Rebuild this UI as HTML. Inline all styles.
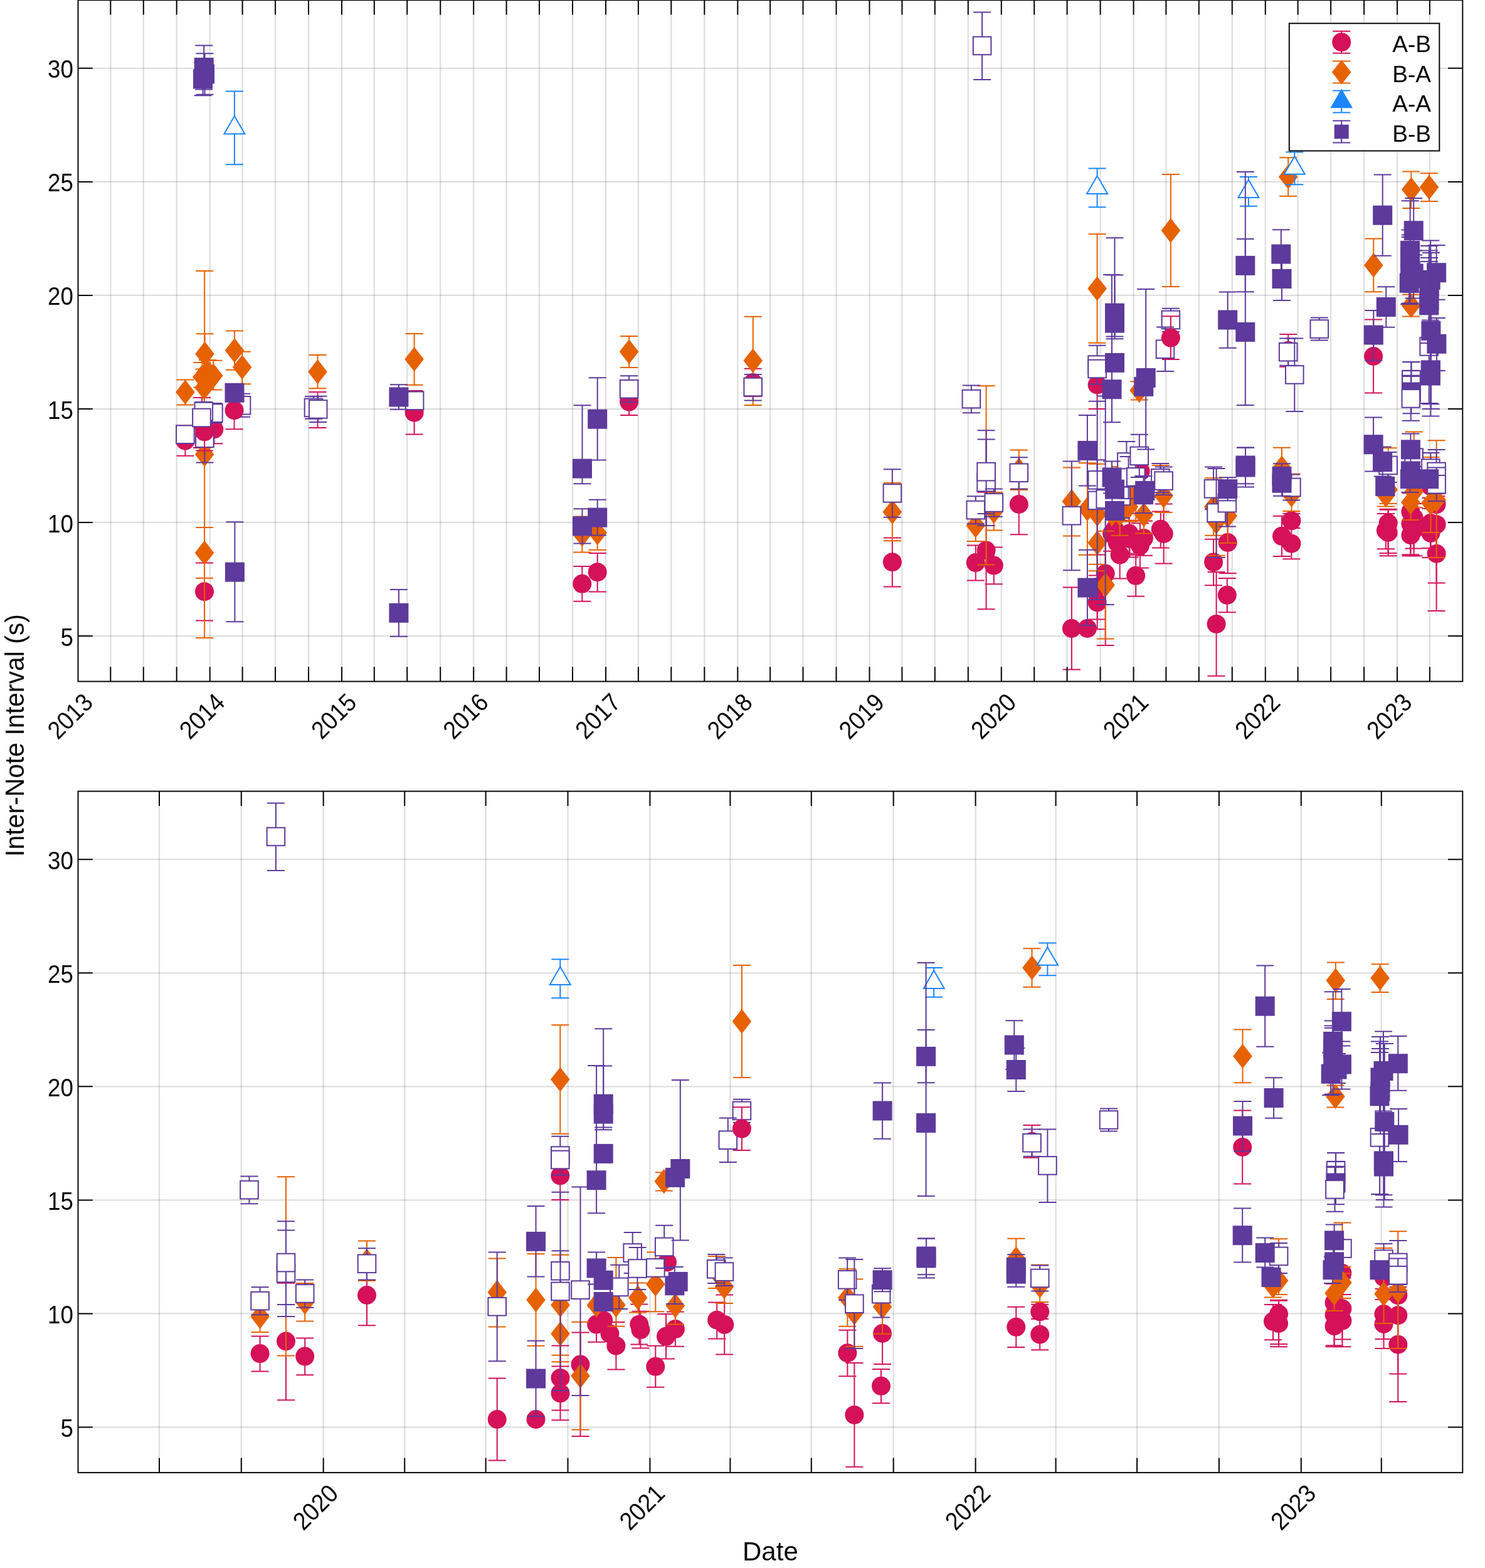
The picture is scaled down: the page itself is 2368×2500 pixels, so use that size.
<!DOCTYPE html><html><head><meta charset="utf-8"><style>html,body{margin:0;padding:0;background:#fff}svg{display:block}</style></head><body><svg xmlns="http://www.w3.org/2000/svg" width="2368" height="2500" viewBox="0 0 2368 2500">
<rect width="2368" height="2500" fill="#fff"/>
<defs><clipPath id="ct"><rect x="124.5" y="0.2" width="2207.8" height="1086.3"/></clipPath><clipPath id="cb"><rect x="124.5" y="1261.6" width="2207.8" height="1086.3000000000002"/></clipPath></defs>
<g stroke="#262626" stroke-opacity="0.15" stroke-width="2.3"><line x1="176.3" y1="0.2" x2="176.3" y2="1086.5"/><line x1="228.8" y1="0.2" x2="228.8" y2="1086.5"/><line x1="281.7" y1="0.2" x2="281.7" y2="1086.5"/><line x1="334.7" y1="0.2" x2="334.7" y2="1086.5"/><line x1="386.6" y1="0.2" x2="386.6" y2="1086.5"/><line x1="439.0" y1="0.2" x2="439.0" y2="1086.5"/><line x1="492.0" y1="0.2" x2="492.0" y2="1086.5"/><line x1="545.0" y1="0.2" x2="545.0" y2="1086.5"/><line x1="596.8" y1="0.2" x2="596.8" y2="1086.5"/><line x1="649.2" y1="0.2" x2="649.2" y2="1086.5"/><line x1="702.2" y1="0.2" x2="702.2" y2="1086.5"/><line x1="755.2" y1="0.2" x2="755.2" y2="1086.5"/><line x1="807.6" y1="0.2" x2="807.6" y2="1086.5"/><line x1="860.0" y1="0.2" x2="860.0" y2="1086.5"/><line x1="913.0" y1="0.2" x2="913.0" y2="1086.5"/><line x1="966.0" y1="0.2" x2="966.0" y2="1086.5"/><line x1="1017.9" y1="0.2" x2="1017.9" y2="1086.5"/><line x1="1070.3" y1="0.2" x2="1070.3" y2="1086.5"/><line x1="1123.3" y1="0.2" x2="1123.3" y2="1086.5"/><line x1="1176.3" y1="0.2" x2="1176.3" y2="1086.5"/><line x1="1228.1" y1="0.2" x2="1228.1" y2="1086.5"/><line x1="1280.5" y1="0.2" x2="1280.5" y2="1086.5"/><line x1="1333.5" y1="0.2" x2="1333.5" y2="1086.5"/><line x1="1386.5" y1="0.2" x2="1386.5" y2="1086.5"/><line x1="1438.4" y1="0.2" x2="1438.4" y2="1086.5"/><line x1="1490.8" y1="0.2" x2="1490.8" y2="1086.5"/><line x1="1543.8" y1="0.2" x2="1543.8" y2="1086.5"/><line x1="1596.8" y1="0.2" x2="1596.8" y2="1086.5"/><line x1="1649.2" y1="0.2" x2="1649.2" y2="1086.5"/><line x1="1701.6" y1="0.2" x2="1701.6" y2="1086.5"/><line x1="1754.6" y1="0.2" x2="1754.6" y2="1086.5"/><line x1="1807.6" y1="0.2" x2="1807.6" y2="1086.5"/><line x1="1859.4" y1="0.2" x2="1859.4" y2="1086.5"/><line x1="1911.8" y1="0.2" x2="1911.8" y2="1086.5"/><line x1="1964.8" y1="0.2" x2="1964.8" y2="1086.5"/><line x1="2017.8" y1="0.2" x2="2017.8" y2="1086.5"/><line x1="2069.6" y1="0.2" x2="2069.6" y2="1086.5"/><line x1="2122.1" y1="0.2" x2="2122.1" y2="1086.5"/><line x1="2175.1" y1="0.2" x2="2175.1" y2="1086.5"/><line x1="2228.0" y1="0.2" x2="2228.0" y2="1086.5"/><line x1="2279.9" y1="0.2" x2="2279.9" y2="1086.5"/><line x1="124.5" y1="1014.1" x2="2332.3" y2="1014.1"/><line x1="124.5" y1="833.0" x2="2332.3" y2="833.0"/><line x1="124.5" y1="652.0" x2="2332.3" y2="652.0"/><line x1="124.5" y1="470.9" x2="2332.3" y2="470.9"/><line x1="124.5" y1="289.9" x2="2332.3" y2="289.9"/><line x1="124.5" y1="108.8" x2="2332.3" y2="108.8"/></g>
<g clip-path="url(#ct)">
<path d="M1866.9 491.7V529.0M1852.9 491.7H1880.9M1852.9 529.0H1880.9" stroke="#5D3A9B" stroke-width="2" fill="none"/>
<rect x="1852.6" y="495.6" width="28.6" height="28.6" fill="#fff" stroke="#5D3A9B" stroke-width="2"/>
<path d="M1858.0 521.6V592.1M1844.0 521.6H1872.0M1844.0 592.1H1872.0" stroke="#5D3A9B" stroke-width="2" fill="none"/>
<rect x="1843.7" y="542.4" width="28.6" height="28.6" fill="#fff" stroke="#5D3A9B" stroke-width="2"/>
<path d="M1555.8 869.4V925.5M1541.8 869.4H1569.8M1541.8 925.5H1569.8" stroke="#D41159" stroke-width="2" fill="none"/>
<circle cx="1555.8" cy="897.1" r="15" fill="#D41159"/>
<path d="M1572.6 784.8V971.3M1558.6 784.8H1586.6M1558.6 971.3H1586.6" stroke="#D41159" stroke-width="2" fill="none"/>
<circle cx="1572.6" cy="877.5" r="15" fill="#D41159"/>
<path d="M1584.8 872.4V931.2M1570.8 872.4H1598.8M1570.8 931.2H1598.8" stroke="#D41159" stroke-width="2" fill="none"/>
<circle cx="1584.8" cy="901.6" r="15" fill="#D41159"/>
<path d="M1624.8 756.0V852.3M1610.8 756.0H1638.8M1610.8 852.3H1638.8" stroke="#D41159" stroke-width="2" fill="none"/>
<circle cx="1624.8" cy="804.0" r="15" fill="#D41159"/>
<path d="M1749.6 575.0V651.9M1735.6 575.0H1763.6M1735.6 651.9H1763.6" stroke="#D41159" stroke-width="2" fill="none"/>
<circle cx="1749.6" cy="613.5" r="15" fill="#D41159"/>
<path d="M1708.9 936.5V1067.5M1694.9 936.5H1722.9M1694.9 1067.5H1722.9" stroke="#D41159" stroke-width="2" fill="none"/>
<circle cx="1708.9" cy="1002.0" r="15" fill="#D41159"/>

<circle cx="1733.9" cy="1002.0" r="15" fill="#D41159"/>
<path d="M1749.7 884.4V987.4M1735.7 884.4H1763.7M1735.7 987.4H1763.7" stroke="#D41159" stroke-width="2" fill="none"/>
<circle cx="1749.7" cy="935.9" r="15" fill="#D41159"/>
<path d="M1749.7 917.5V1003.3M1735.7 917.5H1763.7M1735.7 1003.3H1763.7" stroke="#D41159" stroke-width="2" fill="none"/>
<circle cx="1749.7" cy="960.4" r="15" fill="#D41159"/>
<path d="M1762.7 863.4V1029.0M1748.7 863.4H1776.7M1748.7 1029.0H1776.7" stroke="#D41159" stroke-width="2" fill="none"/>
<circle cx="1762.7" cy="914.6" r="15" fill="#D41159"/>
<path d="M1773.0 822.5V878.7M1759.0 822.5H1787.0M1759.0 878.7H1787.0" stroke="#D41159" stroke-width="2" fill="none"/>
<circle cx="1773.0" cy="850.6" r="15" fill="#D41159"/>

<circle cx="1777.5" cy="844.2" r="15" fill="#D41159"/>

<circle cx="1781.7" cy="865.5" r="15" fill="#D41159"/>
<path d="M1785.7 846.9V922.5M1771.7 846.9H1799.7M1771.7 922.5H1799.7" stroke="#D41159" stroke-width="2" fill="none"/>
<circle cx="1785.7" cy="884.7" r="15" fill="#D41159"/>
<path d="M1800.7 818.6V882.6M1786.7 818.6H1814.7M1786.7 882.6H1814.7" stroke="#D41159" stroke-width="2" fill="none"/>
<circle cx="1800.7" cy="850.6" r="15" fill="#D41159"/>
<path d="M1801.5 829.7V888.5M1787.5 829.7H1815.5M1787.5 888.5H1815.5" stroke="#D41159" stroke-width="2" fill="none"/>
<circle cx="1801.5" cy="859.1" r="15" fill="#D41159"/>
<path d="M1811.2 884.7V950.8M1797.2 884.7H1825.2M1797.2 950.8H1825.2" stroke="#D41159" stroke-width="2" fill="none"/>
<circle cx="1811.2" cy="917.8" r="15" fill="#D41159"/>

<circle cx="1818.8" cy="751.5" r="15" fill="#D41159"/>
<path d="M1817.9 834.2V905.4M1803.9 834.2H1831.9M1803.9 905.4H1831.9" stroke="#D41159" stroke-width="2" fill="none"/>
<circle cx="1817.9" cy="869.8" r="15" fill="#D41159"/>
<path d="M1824.0 830.4V885.8M1810.0 830.4H1838.0M1810.0 885.8H1838.0" stroke="#D41159" stroke-width="2" fill="none"/>
<circle cx="1824.0" cy="858.1" r="15" fill="#D41159"/>
<path d="M1866.9 504.3V572.9M1852.9 504.3H1880.9M1852.9 572.9H1880.9" stroke="#D41159" stroke-width="2" fill="none"/>
<circle cx="1866.9" cy="538.6" r="15" fill="#D41159"/>
<path d="M1850.8 815.4V873.6M1836.8 815.4H1864.8M1836.8 873.6H1864.8" stroke="#D41159" stroke-width="2" fill="none"/>
<circle cx="1850.8" cy="843.7" r="15" fill="#D41159"/>
<path d="M1855.7 803.4V898.6M1841.7 803.4H1869.7M1841.7 898.6H1869.7" stroke="#D41159" stroke-width="2" fill="none"/>
<circle cx="1855.7" cy="850.9" r="15" fill="#D41159"/>
<path d="M1935.1 859.7V933.3M1921.1 859.7H1949.1M1921.1 933.3H1949.1" stroke="#D41159" stroke-width="2" fill="none"/>
<circle cx="1935.1" cy="896.2" r="15" fill="#D41159"/>
<path d="M1939.6 912.0V1077.8M1925.6 912.0H1953.6M1925.6 1077.8H1953.6" stroke="#D41159" stroke-width="2" fill="none"/>
<circle cx="1939.6" cy="994.9" r="15" fill="#D41159"/>
<path d="M2054.2 533.0V584.8M2040.2 533.0H2068.2M2040.2 584.8H2068.2" stroke="#D41159" stroke-width="2" fill="none"/>
<circle cx="2054.2" cy="559.0" r="15" fill="#D41159"/>
<path d="M1957.7 815.9V914.1M1943.7 815.9H1971.7M1943.7 914.1H1971.7" stroke="#D41159" stroke-width="2" fill="none"/>
<circle cx="1957.7" cy="865.0" r="15" fill="#D41159"/>
<path d="M1956.8 922.0V976.3M1942.8 922.0H1970.8M1942.8 976.3H1970.8" stroke="#D41159" stroke-width="2" fill="none"/>
<circle cx="1956.8" cy="948.8" r="15" fill="#D41159"/>
<path d="M2044.0 822.8V887.0M2030.0 822.8H2058.0M2030.0 887.0H2058.0" stroke="#D41159" stroke-width="2" fill="none"/>
<circle cx="2044.0" cy="854.8" r="15" fill="#D41159"/>
<path d="M2059.4 818.8V841.8M2045.4 818.8H2073.4M2045.4 841.8H2073.4" stroke="#D41159" stroke-width="2" fill="none"/>
<circle cx="2059.4" cy="830.3" r="15" fill="#D41159"/>
<path d="M2059.4 842.1V891.3M2045.4 842.1H2073.4M2045.4 891.3H2073.4" stroke="#D41159" stroke-width="2" fill="none"/>
<circle cx="2059.4" cy="866.7" r="15" fill="#D41159"/>
<path d="M2190.1 509.6V626.4M2176.1 509.6H2204.1M2176.1 626.4H2204.1" stroke="#D41159" stroke-width="2" fill="none"/>
<circle cx="2190.1" cy="568.0" r="15" fill="#D41159"/>
<path d="M2213.6 812.7V882.0M2199.6 812.7H2227.6M2199.6 882.0H2227.6" stroke="#D41159" stroke-width="2" fill="none"/>
<circle cx="2213.6" cy="834.0" r="15" fill="#D41159"/>
<path d="M2209.9 819.0V875.2M2195.9 819.0H2223.9M2195.9 875.2H2223.9" stroke="#D41159" stroke-width="2" fill="none"/>
<circle cx="2209.9" cy="845.8" r="15" fill="#D41159"/>
<path d="M2213.6 811.7V886.3M2199.6 811.7H2227.6M2199.6 886.3H2227.6" stroke="#D41159" stroke-width="2" fill="none"/>
<circle cx="2213.6" cy="849.0" r="15" fill="#D41159"/>

<circle cx="2254.6" cy="769.0" r="15" fill="#D41159"/>
<path d="M2249.4 772.2V859.6M2235.4 772.2H2263.4M2235.4 859.6H2263.4" stroke="#D41159" stroke-width="2" fill="none"/>
<circle cx="2249.4" cy="815.9" r="15" fill="#D41159"/>
<path d="M2254.6 776.4V874.6M2240.6 776.4H2268.6M2240.6 874.6H2268.6" stroke="#D41159" stroke-width="2" fill="none"/>
<circle cx="2254.6" cy="825.5" r="15" fill="#D41159"/>
<path d="M2249.4 786.0V884.2M2235.4 786.0H2263.4M2235.4 884.2H2263.4" stroke="#D41159" stroke-width="2" fill="none"/>
<circle cx="2249.4" cy="835.1" r="15" fill="#D41159"/>
<path d="M2254.6 803.1V886.3M2240.6 803.1H2268.6M2240.6 886.3H2268.6" stroke="#D41159" stroke-width="2" fill="none"/>
<circle cx="2254.6" cy="844.7" r="15" fill="#D41159"/>
<path d="M2249.4 820.1V886.3M2235.4 820.1H2263.4M2235.4 886.3H2263.4" stroke="#D41159" stroke-width="2" fill="none"/>
<circle cx="2249.4" cy="853.2" r="15" fill="#D41159"/>

<circle cx="2281.4" cy="775.4" r="15" fill="#D41159"/>

<circle cx="2290.6" cy="804.2" r="15" fill="#D41159"/>
<path d="M2290.6 742.8V929.6M2276.6 742.8H2304.6M2276.6 929.6H2304.6" stroke="#D41159" stroke-width="2" fill="none"/>
<circle cx="2290.6" cy="836.2" r="15" fill="#D41159"/>
<path d="M2281.4 794.0V874.0M2267.4 794.0H2295.4M2267.4 874.0H2295.4" stroke="#D41159" stroke-width="2" fill="none"/>
<circle cx="2281.4" cy="834.0" r="15" fill="#D41159"/>
<path d="M2281.4 811.0V889.0M2267.4 811.0H2295.4M2267.4 889.0H2295.4" stroke="#D41159" stroke-width="2" fill="none"/>
<circle cx="2281.4" cy="850.0" r="15" fill="#D41159"/>
<path d="M2290.6 791.0V974.0M2276.6 791.0H2304.6M2276.6 974.0H2304.6" stroke="#D41159" stroke-width="2" fill="none"/>
<circle cx="2290.6" cy="882.7" r="15" fill="#D41159"/>
<path d="M295.4 678.6V726.8M281.4 678.6H309.4M281.4 726.8H309.4" stroke="#D41159" stroke-width="2" fill="none"/>
<circle cx="295.4" cy="702.7" r="15" fill="#D41159"/>
<path d="M322.0 633.9V714.1M308.0 633.9H336.0M308.0 714.1H336.0" stroke="#D41159" stroke-width="2" fill="none"/>
<circle cx="322.0" cy="674.0" r="15" fill="#D41159"/>
<path d="M341.3 661.7V707.3M327.3 661.7H355.3M327.3 707.3H355.3" stroke="#D41159" stroke-width="2" fill="none"/>
<circle cx="341.3" cy="684.5" r="15" fill="#D41159"/>
<path d="M326.0 897.6V989.6M312.0 897.6H340.0M312.0 989.6H340.0" stroke="#D41159" stroke-width="2" fill="none"/>
<circle cx="326.0" cy="943.2" r="15" fill="#D41159"/>
<path d="M506.5 624.9V681.9M492.5 624.9H520.5M492.5 681.9H520.5" stroke="#D41159" stroke-width="2" fill="none"/>
<circle cx="506.5" cy="653.4" r="15" fill="#D41159"/>
<path d="M660.6 622.9V692.5M646.6 622.9H674.6M646.6 692.5H674.6" stroke="#D41159" stroke-width="2" fill="none"/>
<circle cx="660.6" cy="657.7" r="15" fill="#D41159"/>
<path d="M928.3 902.9V958.7M914.3 902.9H942.3M914.3 958.7H942.3" stroke="#D41159" stroke-width="2" fill="none"/>
<circle cx="928.3" cy="930.8" r="15" fill="#D41159"/>
<path d="M952.7 882.0V943.6M938.7 882.0H966.7M938.7 943.6H966.7" stroke="#D41159" stroke-width="2" fill="none"/>
<circle cx="952.7" cy="912.2" r="15" fill="#D41159"/>
<path d="M1003.1 619.0V662.1M989.1 619.0H1017.1M989.1 662.1H1017.1" stroke="#D41159" stroke-width="2" fill="none"/>
<circle cx="1003.1" cy="640.6" r="15" fill="#D41159"/>
<path d="M1200.7 587.7V632.0M1186.7 587.7H1214.7M1186.7 632.0H1214.7" stroke="#D41159" stroke-width="2" fill="none"/>
<circle cx="1200.7" cy="610.0" r="15" fill="#D41159"/>
<path d="M1422.9 857.4V935.4M1408.9 857.4H1436.9M1408.9 935.4H1436.9" stroke="#D41159" stroke-width="2" fill="none"/>
<circle cx="1422.9" cy="896.2" r="15" fill="#D41159"/>
<path d="M1555.8 813.0V863.0M1541.8 813.0H1569.8M1541.8 863.0H1569.8" stroke="#E66100" stroke-width="2" fill="none"/>
<path d="M1555.8 818.3L1571.1 838.0L1555.8 857.7L1540.5 838.0Z" fill="#E66100"/>
<path d="M1572.6 615.2V900.5M1558.6 615.2H1586.6M1558.6 900.5H1586.6" stroke="#E66100" stroke-width="2" fill="none"/>
<path d="M1572.6 738.2L1587.9 757.9L1572.6 777.6L1557.3 757.9Z" fill="#E66100"/>
<path d="M1584.8 785.0V845.5M1570.8 785.0H1598.8M1570.8 845.5H1598.8" stroke="#E66100" stroke-width="2" fill="none"/>
<path d="M1584.8 795.5L1600.1 815.2L1584.8 834.9L1569.5 815.2Z" fill="#E66100"/>
<path d="M1624.8 717.6V781.1M1610.8 717.6H1638.8M1610.8 781.1H1638.8" stroke="#E66100" stroke-width="2" fill="none"/>
<path d="M1624.8 729.7L1640.1 749.4L1624.8 769.1L1609.5 749.4Z" fill="#E66100"/>
<path d="M1749.6 373.3V546.7M1735.6 373.3H1763.6M1735.6 546.7H1763.6" stroke="#E66100" stroke-width="2" fill="none"/>
<path d="M1749.6 440.4L1764.9 460.1L1749.6 479.8L1734.3 460.1Z" fill="#E66100"/>
<path d="M1708.9 745.5V854.4M1694.9 745.5H1722.9M1694.9 854.4H1722.9" stroke="#E66100" stroke-width="2" fill="none"/>
<path d="M1708.9 779.7L1724.2 799.4L1708.9 819.1L1693.6 799.4Z" fill="#E66100"/>
<path d="M1733.9 738.2V884.7M1719.9 738.2H1747.9M1719.9 884.7H1747.9" stroke="#E66100" stroke-width="2" fill="none"/>
<path d="M1733.9 791.9L1749.2 811.6L1733.9 831.3L1718.6 811.6Z" fill="#E66100"/>
<path d="M1749.7 739.7V899.7M1735.7 739.7H1763.7M1735.7 899.7H1763.7" stroke="#E66100" stroke-width="2" fill="none"/>
<path d="M1749.7 800.0L1765.0 819.7L1749.7 839.4L1734.4 819.7Z" fill="#E66100"/>
<path d="M1749.7 820.7V910.3M1735.7 820.7H1763.7M1735.7 910.3H1763.7" stroke="#E66100" stroke-width="2" fill="none"/>
<path d="M1749.7 845.8L1765.0 865.5L1749.7 885.2L1734.4 865.5Z" fill="#E66100"/>
<path d="M1762.7 846.8V1018.6M1748.7 846.8H1776.7M1748.7 1018.6H1776.7" stroke="#E66100" stroke-width="2" fill="none"/>
<path d="M1762.7 913.0L1778.0 932.7L1762.7 952.4L1747.4 932.7Z" fill="#E66100"/>

<path d="M1773.0 800.0L1788.3 819.7L1773.0 839.4L1757.7 819.7Z" fill="#E66100"/>
<path d="M1785.7 744.0V853.8M1771.7 744.0H1799.7M1771.7 853.8H1799.7" stroke="#E66100" stroke-width="2" fill="none"/>
<path d="M1785.7 800.0L1801.0 819.7L1785.7 839.4L1770.4 819.7Z" fill="#E66100"/>
<path d="M1799.8 784.6V831.4M1785.8 784.6H1813.8M1785.8 831.4H1813.8" stroke="#E66100" stroke-width="2" fill="none"/>
<path d="M1799.8 788.3L1815.1 808.0L1799.8 827.7L1784.5 808.0Z" fill="#E66100"/>
<path d="M1811.2 735.5V830.3M1797.2 735.5H1825.2M1797.2 830.3H1825.2" stroke="#E66100" stroke-width="2" fill="none"/>
<path d="M1811.2 766.9L1826.5 786.6L1811.2 806.3L1795.9 786.6Z" fill="#E66100"/>
<path d="M1824.0 790.8V850.6M1810.0 790.8H1838.0M1810.0 850.6H1838.0" stroke="#E66100" stroke-width="2" fill="none"/>
<path d="M1824.0 801.0L1839.3 820.7L1824.0 840.4L1808.7 820.7Z" fill="#E66100"/>
<path d="M1816.7 608.2V637.4M1802.7 608.2H1830.7M1802.7 637.4H1830.7" stroke="#E66100" stroke-width="2" fill="none"/>
<path d="M1816.7 602.8L1832.0 622.5L1816.7 642.2L1801.4 622.5Z" fill="#E66100"/>
<path d="M1866.9 278.1V457.1M1852.9 278.1H1880.9M1852.9 457.1H1880.9" stroke="#E66100" stroke-width="2" fill="none"/>
<path d="M1866.9 347.8L1882.2 367.5L1866.9 387.2L1851.6 367.5Z" fill="#E66100"/>
<path d="M1850.8 741.9V792.9M1836.8 741.9H1864.8M1836.8 792.9H1864.8" stroke="#E66100" stroke-width="2" fill="none"/>
<path d="M1850.8 747.7L1866.1 767.4L1850.8 787.1L1835.5 767.4Z" fill="#E66100"/>
<path d="M1855.6 764.1V816.9M1841.6 764.1H1869.6M1841.6 816.9H1869.6" stroke="#E66100" stroke-width="2" fill="none"/>
<path d="M1855.6 770.8L1870.9 790.5L1855.6 810.2L1840.3 790.5Z" fill="#E66100"/>
<path d="M1935.1 762.2V853.8M1921.1 762.2H1949.1M1921.1 853.8H1949.1" stroke="#E66100" stroke-width="2" fill="none"/>
<path d="M1935.1 788.5L1950.4 808.2L1935.1 827.9L1919.8 808.2Z" fill="#E66100"/>
<path d="M1939.5 778.6V885.8M1925.5 778.6H1953.5M1925.5 885.8H1953.5" stroke="#E66100" stroke-width="2" fill="none"/>
<path d="M1939.5 812.3L1954.8 832.0L1939.5 851.7L1924.2 832.0Z" fill="#E66100"/>
<path d="M2054.2 251.2V312.8M2040.2 251.2H2068.2M2040.2 312.8H2068.2" stroke="#E66100" stroke-width="2" fill="none"/>
<path d="M2054.2 262.2L2069.5 281.9L2054.2 301.6L2038.9 281.9Z" fill="#E66100"/>
<path d="M1957.7 779.1V865.7M1943.7 779.1H1971.7M1943.7 865.7H1971.7" stroke="#E66100" stroke-width="2" fill="none"/>
<path d="M1957.7 802.7L1973.0 822.4L1957.7 842.1L1942.4 822.4Z" fill="#E66100"/>
<path d="M2044.0 713.7V778.1M2030.0 713.7H2058.0M2030.0 778.1H2058.0" stroke="#E66100" stroke-width="2" fill="none"/>
<path d="M2044.0 726.2L2059.3 745.9L2044.0 765.6L2028.7 745.9Z" fill="#E66100"/>
<path d="M2059.4 755.7V814.9M2045.4 755.7H2073.4M2045.4 814.9H2073.4" stroke="#E66100" stroke-width="2" fill="none"/>
<path d="M2059.4 769.3L2074.7 789.0L2059.4 808.7L2044.1 789.0Z" fill="#E66100"/>
<path d="M2190.3 380.5V465.3M2176.3 380.5H2204.3M2176.3 465.3H2204.3" stroke="#E66100" stroke-width="2" fill="none"/>
<path d="M2190.3 403.2L2205.6 422.9L2190.3 442.6L2175.0 422.9Z" fill="#E66100"/>
<path d="M2250.3 273.6V332.0M2236.3 273.6H2264.3M2236.3 332.0H2264.3" stroke="#E66100" stroke-width="2" fill="none"/>
<path d="M2250.3 282.6L2265.6 302.3L2250.3 322.0L2235.0 302.3Z" fill="#E66100"/>
<path d="M2279.0 276.3V320.9M2265.0 276.3H2293.0M2265.0 320.9H2293.0" stroke="#E66100" stroke-width="2" fill="none"/>
<path d="M2279.0 278.8L2294.3 298.5L2279.0 318.2L2263.7 298.5Z" fill="#E66100"/>
<path d="M2250.1 469.6V504.4M2236.1 469.6H2264.1M2236.1 504.4H2264.1" stroke="#E66100" stroke-width="2" fill="none"/>
<path d="M2250.1 467.5L2265.4 487.2L2250.1 506.9L2234.8 487.2Z" fill="#E66100"/>
<path d="M2213.6 714.2V803.0M2199.6 714.2H2227.6M2199.6 803.0H2227.6" stroke="#E66100" stroke-width="2" fill="none"/>
<path d="M2213.6 761.0L2228.9 780.7L2213.6 800.4L2198.3 780.7Z" fill="#E66100"/>
<path d="M2209.9 771.2V807.4M2195.9 771.2H2223.9M2195.9 807.4H2223.9" stroke="#E66100" stroke-width="2" fill="none"/>
<path d="M2209.9 769.6L2225.2 789.3L2209.9 809.0L2194.6 789.3Z" fill="#E66100"/>
<path d="M2254.6 688.4V769.6M2240.6 688.4H2268.6M2240.6 769.6H2268.6" stroke="#E66100" stroke-width="2" fill="none"/>
<path d="M2254.6 709.3L2269.9 729.0L2254.6 748.7L2239.3 729.0Z" fill="#E66100"/>
<path d="M2254.6 759.0V809.0M2240.6 759.0H2268.6M2240.6 809.0H2268.6" stroke="#E66100" stroke-width="2" fill="none"/>
<path d="M2254.6 764.3L2269.9 784.0L2254.6 803.7L2239.3 784.0Z" fill="#E66100"/>
<path d="M2249.4 773.0V829.0M2235.4 773.0H2263.4M2235.4 829.0H2263.4" stroke="#E66100" stroke-width="2" fill="none"/>
<path d="M2249.4 781.3L2264.7 801.0L2249.4 820.7L2234.1 801.0Z" fill="#E66100"/>
<path d="M2281.4 729.0V849.0M2267.4 729.0H2295.4M2267.4 849.0H2295.4" stroke="#E66100" stroke-width="2" fill="none"/>
<path d="M2281.4 782.4L2296.7 802.1L2281.4 821.8L2266.1 802.1Z" fill="#E66100"/>
<path d="M2290.6 702.3V889.0M2276.6 702.3H2304.6M2276.6 889.0H2304.6" stroke="#E66100" stroke-width="2" fill="none"/>
<path d="M2290.6 777.3L2305.9 797.0L2290.6 816.7L2275.3 797.0Z" fill="#E66100"/>
<path d="M295.4 605.6V645.5M281.4 605.6H309.4M281.4 645.5H309.4" stroke="#E66100" stroke-width="2" fill="none"/>
<path d="M295.4 605.6L310.7 625.3L295.4 645.0L280.1 625.3Z" fill="#E66100"/>
<path d="M326.5 532.2V596.2M312.5 532.2H340.5M312.5 596.2H340.5" stroke="#E66100" stroke-width="2" fill="none"/>
<path d="M326.5 544.5L341.8 564.2L326.5 583.9L311.2 564.2Z" fill="#E66100"/>
<path d="M331.0 574.1V611.9M317.0 574.1H345.0M317.0 611.9H345.0" stroke="#E66100" stroke-width="2" fill="none"/>
<path d="M331.0 573.3L346.3 593.0L331.0 612.7L315.7 593.0Z" fill="#E66100"/>
<path d="M340.3 574.8V621.4M326.3 574.8H354.3M326.3 621.4H354.3" stroke="#E66100" stroke-width="2" fill="none"/>
<path d="M340.3 579.3L355.6 599.0L340.3 618.7L325.0 599.0Z" fill="#E66100"/>
<path d="M322.4 578.0V617.5M308.4 578.0H336.4M308.4 617.5H336.4" stroke="#E66100" stroke-width="2" fill="none"/>
<path d="M322.4 581.3L337.7 601.0L322.4 620.7L307.1 601.0Z" fill="#E66100"/>
<path d="M325.5 588.4V647.6M311.5 588.4H339.5M311.5 647.6H339.5" stroke="#E66100" stroke-width="2" fill="none"/>
<path d="M325.5 598.3L340.8 618.0L325.5 637.7L310.2 618.0Z" fill="#E66100"/>
<path d="M326.1 432.0V1017.0M312.1 432.0H340.1M312.1 1017.0H340.1" stroke="#E66100" stroke-width="2" fill="none"/>
<path d="M326.1 704.9L341.4 724.6L326.1 744.3L310.8 724.6Z" fill="#E66100"/>
<path d="M374.0 527.6V589.8M360.0 527.6H388.0M360.0 589.8H388.0" stroke="#E66100" stroke-width="2" fill="none"/>
<path d="M374.0 539.0L389.3 558.7L374.0 578.4L358.7 558.7Z" fill="#E66100"/>
<path d="M386.1 560.7V612.2M372.1 560.7H400.1M372.1 612.2H400.1" stroke="#E66100" stroke-width="2" fill="none"/>
<path d="M386.1 565.7L401.4 585.4L386.1 605.1L370.8 585.4Z" fill="#E66100"/>
<path d="M326.0 841.0V921.8M312.0 841.0H340.0M312.0 921.8H340.0" stroke="#E66100" stroke-width="2" fill="none"/>
<path d="M326.0 861.7L341.3 881.4L326.0 901.1L310.7 881.4Z" fill="#E66100"/>
<path d="M506.5 566.0V619.3M492.5 566.0H520.5M492.5 619.3H520.5" stroke="#E66100" stroke-width="2" fill="none"/>
<path d="M506.5 573.0L521.8 592.7L506.5 612.4L491.2 592.7Z" fill="#E66100"/>
<path d="M660.6 532.1V613.8M646.6 532.1H674.6M646.6 613.8H674.6" stroke="#E66100" stroke-width="2" fill="none"/>
<path d="M660.6 553.1L675.9 572.8L660.6 592.5L645.3 572.8Z" fill="#E66100"/>
<path d="M928.3 823.6V880.4M914.3 823.6H942.3M914.3 880.4H942.3" stroke="#E66100" stroke-width="2" fill="none"/>
<path d="M928.3 832.3L943.6 852.0L928.3 871.7L913.0 852.0Z" fill="#E66100"/>
<path d="M952.7 822.5V876.7M938.7 822.5H966.7M938.7 876.7H966.7" stroke="#E66100" stroke-width="2" fill="none"/>
<path d="M952.7 829.9L968.0 849.6L952.7 869.3L937.4 849.6Z" fill="#E66100"/>
<path d="M1003.1 536.0V585.9M989.1 536.0H1017.1M989.1 585.9H1017.1" stroke="#E66100" stroke-width="2" fill="none"/>
<path d="M1003.1 541.1L1018.4 560.8L1003.1 580.5L987.8 560.8Z" fill="#E66100"/>
<path d="M1200.7 504.8V645.9M1186.7 504.8H1214.7M1186.7 645.9H1214.7" stroke="#E66100" stroke-width="2" fill="none"/>
<path d="M1200.7 555.4L1216.0 575.1L1200.7 594.8L1185.4 575.1Z" fill="#E66100"/>
<path d="M1422.9 769.7V862.2M1408.9 769.7H1436.9M1408.9 862.2H1436.9" stroke="#E66100" stroke-width="2" fill="none"/>
<path d="M1422.9 796.5L1438.2 816.2L1422.9 835.9L1407.6 816.2Z" fill="#E66100"/>
<path d="M1749.6 268.4V330.3M1735.6 268.4H1763.6M1735.6 330.3H1763.6" stroke="#1A85FF" stroke-width="2" fill="none"/>
<path d="M1749.6 280.4L1766.1 308.9L1733.1 308.9Z" fill="#fff" stroke="#1A85FF" stroke-width="2"/>
<path d="M1990.9 281.9V328.8M1976.9 281.9H2004.9M1976.9 328.8H2004.9" stroke="#1A85FF" stroke-width="2" fill="none"/>
<path d="M1990.9 286.4L2007.4 314.9L1974.4 314.9Z" fill="#fff" stroke="#1A85FF" stroke-width="2"/>
<path d="M2064.3 242.4V294.2M2050.3 242.4H2078.3M2050.3 294.2H2078.3" stroke="#1A85FF" stroke-width="2" fill="none"/>
<path d="M2064.3 249.3L2080.8 277.8L2047.8 277.8Z" fill="#fff" stroke="#1A85FF" stroke-width="2"/>
<path d="M373.9 145.5V262.2M359.9 145.5H387.9M359.9 262.2H387.9" stroke="#1A85FF" stroke-width="2" fill="none"/>
<path d="M373.9 184.9L390.4 213.4L357.4 213.4Z" fill="#fff" stroke="#1A85FF" stroke-width="2"/>
<path d="M1566.1 19.4V126.9M1552.1 19.4H1580.1M1552.1 126.9H1580.1" stroke="#5D3A9B" stroke-width="2" fill="none"/>
<rect x="1551.8" y="58.6" width="28.6" height="28.6" fill="#fff" stroke="#5D3A9B" stroke-width="2"/>
<path d="M1548.9 614.6V658.3M1534.9 614.6H1562.9M1534.9 658.3H1562.9" stroke="#5D3A9B" stroke-width="2" fill="none"/>
<rect x="1534.6" y="621.8" width="28.6" height="28.6" fill="#fff" stroke="#5D3A9B" stroke-width="2"/>
<path d="M1555.8 791.2V835.3M1541.8 791.2H1569.8M1541.8 835.3H1569.8" stroke="#5D3A9B" stroke-width="2" fill="none"/>
<rect x="1541.5" y="798.8" width="28.6" height="28.6" fill="#fff" stroke="#5D3A9B" stroke-width="2"/>
<path d="M1572.6 700.5V838.0M1558.6 700.5H1586.6M1558.6 838.0H1586.6" stroke="#5D3A9B" stroke-width="2" fill="none"/>
<rect x="1558.3" y="754.7" width="28.6" height="28.6" fill="#fff" stroke="#5D3A9B" stroke-width="2"/>
<path d="M1572.6 686.2V818.9M1558.6 686.2H1586.6M1558.6 818.9H1586.6" stroke="#5D3A9B" stroke-width="2" fill="none"/>
<rect x="1558.3" y="737.8" width="28.6" height="28.6" fill="#fff" stroke="#5D3A9B" stroke-width="2"/>
<path d="M1584.8 779.4V823.8M1570.8 779.4H1598.8M1570.8 823.8H1598.8" stroke="#5D3A9B" stroke-width="2" fill="none"/>
<rect x="1570.5" y="787.1" width="28.6" height="28.6" fill="#fff" stroke="#5D3A9B" stroke-width="2"/>
<path d="M1624.8 729.3V779.4M1610.8 729.3H1638.8M1610.8 779.4H1638.8" stroke="#5D3A9B" stroke-width="2" fill="none"/>
<rect x="1610.5" y="739.5" width="28.6" height="28.6" fill="#fff" stroke="#5D3A9B" stroke-width="2"/>
<path d="M1749.6 550.7V612.5M1735.6 550.7H1763.6M1735.6 612.5H1763.6" stroke="#5D3A9B" stroke-width="2" fill="none"/>
<rect x="1735.3" y="567.3" width="28.6" height="28.6" fill="#fff" stroke="#5D3A9B" stroke-width="2"/>

<rect x="1735.3" y="573.7" width="28.6" height="28.6" fill="#fff" stroke="#5D3A9B" stroke-width="2"/>
<path d="M1708.9 735.5V909.2M1694.9 735.5H1722.9M1694.9 909.2H1722.9" stroke="#5D3A9B" stroke-width="2" fill="none"/>
<rect x="1694.6" y="807.9" width="28.6" height="28.6" fill="#fff" stroke="#5D3A9B" stroke-width="2"/>
<path d="M1749.7 733.3V797.3M1735.7 733.3H1763.7M1735.7 797.3H1763.7" stroke="#5D3A9B" stroke-width="2" fill="none"/>
<rect x="1735.4" y="751.0" width="28.6" height="28.6" fill="#fff" stroke="#5D3A9B" stroke-width="2"/>
<path d="M1749.7 639.7V956.1M1735.7 639.7H1763.7M1735.7 956.1H1763.7" stroke="#5D3A9B" stroke-width="2" fill="none"/>
<rect x="1735.4" y="783.6" width="28.6" height="28.6" fill="#fff" stroke="#5D3A9B" stroke-width="2"/>
<path d="M1762.7 631.4V964.0M1748.7 631.4H1776.7M1748.7 964.0H1776.7" stroke="#5D3A9B" stroke-width="2" fill="none"/>
<rect x="1748.4" y="781.3" width="28.6" height="28.6" fill="#fff" stroke="#5D3A9B" stroke-width="2"/>
<path d="M1787.7 755.7V826.1M1773.7 755.7H1801.7M1773.7 826.1H1801.7" stroke="#5D3A9B" stroke-width="2" fill="none"/>
<rect x="1773.4" y="776.6" width="28.6" height="28.6" fill="#fff" stroke="#5D3A9B" stroke-width="2"/>
<path d="M1796.4 703.9V769.1M1782.4 703.9H1810.4M1782.4 769.1H1810.4" stroke="#5D3A9B" stroke-width="2" fill="none"/>
<rect x="1782.1" y="722.2" width="28.6" height="28.6" fill="#fff" stroke="#5D3A9B" stroke-width="2"/>
<path d="M1799.5 728.0V795.0M1785.5 728.0H1813.5M1785.5 795.0H1813.5" stroke="#5D3A9B" stroke-width="2" fill="none"/>
<rect x="1785.2" y="747.2" width="28.6" height="28.6" fill="#fff" stroke="#5D3A9B" stroke-width="2"/>

<rect x="1796.9" y="746.1" width="28.6" height="28.6" fill="#fff" stroke="#5D3A9B" stroke-width="2"/>
<path d="M1816.8 692.8V761.0M1802.8 692.8H1830.8M1802.8 761.0H1830.8" stroke="#5D3A9B" stroke-width="2" fill="none"/>
<rect x="1802.5" y="712.6" width="28.6" height="28.6" fill="#fff" stroke="#5D3A9B" stroke-width="2"/>
<path d="M1850.4 739.0V785.0M1836.4 739.0H1864.4M1836.4 785.0H1864.4" stroke="#5D3A9B" stroke-width="2" fill="none"/>
<rect x="1836.1" y="748.0" width="28.6" height="28.6" fill="#fff" stroke="#5D3A9B" stroke-width="2"/>
<path d="M1855.6 744.6V789.0M1841.6 744.6H1869.6M1841.6 789.0H1869.6" stroke="#5D3A9B" stroke-width="2" fill="none"/>
<rect x="1841.3" y="752.3" width="28.6" height="28.6" fill="#fff" stroke="#5D3A9B" stroke-width="2"/>
<path d="M1935.0 744.6V811.7M1921.0 744.6H1949.0M1921.0 811.7H1949.0" stroke="#5D3A9B" stroke-width="2" fill="none"/>
<rect x="1920.7" y="765.0" width="28.6" height="28.6" fill="#fff" stroke="#5D3A9B" stroke-width="2"/>
<path d="M1939.6 747.0V889.0M1925.6 747.0H1953.6M1925.6 889.0H1953.6" stroke="#5D3A9B" stroke-width="2" fill="none"/>
<rect x="1925.3" y="803.4" width="28.6" height="28.6" fill="#fff" stroke="#5D3A9B" stroke-width="2"/>
<path d="M2054.2 539.4V582.7M2040.2 539.4H2068.2M2040.2 582.7H2068.2" stroke="#5D3A9B" stroke-width="2" fill="none"/>
<rect x="2039.9" y="546.9" width="28.6" height="28.6" fill="#fff" stroke="#5D3A9B" stroke-width="2"/>
<path d="M2064.3 539.4V656.1M2050.3 539.4H2078.3M2050.3 656.1H2078.3" stroke="#5D3A9B" stroke-width="2" fill="none"/>
<rect x="2050.0" y="583.1" width="28.6" height="28.6" fill="#fff" stroke="#5D3A9B" stroke-width="2"/>
<path d="M2103.8 506.4V542.6M2089.8 506.4H2117.8M2089.8 542.6H2117.8" stroke="#5D3A9B" stroke-width="2" fill="none"/>
<rect x="2089.5" y="510.2" width="28.6" height="28.6" fill="#fff" stroke="#5D3A9B" stroke-width="2"/>
<path d="M1956.9 799.4V839.5M1942.9 799.4H1970.9M1942.9 839.5H1970.9" stroke="#5D3A9B" stroke-width="2" fill="none"/>
<rect x="1942.6" y="787.8" width="28.6" height="28.6" fill="#fff" stroke="#5D3A9B" stroke-width="2"/>
<path d="M2059.4 756.6V797.4M2045.4 756.6H2073.4M2045.4 797.4H2073.4" stroke="#5D3A9B" stroke-width="2" fill="none"/>
<rect x="2045.1" y="762.7" width="28.6" height="28.6" fill="#fff" stroke="#5D3A9B" stroke-width="2"/>
<path d="M2278.7 417.1V643.0M2264.7 417.1H2292.7M2264.7 643.0H2292.7" stroke="#5D3A9B" stroke-width="2" fill="none"/>
<rect x="2264.4" y="538.1" width="28.6" height="28.6" fill="#fff" stroke="#5D3A9B" stroke-width="2"/>
<path d="M2250.4 577.0V591.0M2236.4 577.0H2264.4M2236.4 591.0H2264.4" stroke="#5D3A9B" stroke-width="2" fill="none"/>
<rect x="2236.1" y="591.1" width="28.6" height="28.6" fill="#fff" stroke="#5D3A9B" stroke-width="2"/>
<path d="M2213.6 721.0V769.0M2199.6 721.0H2227.6M2199.6 769.0H2227.6" stroke="#5D3A9B" stroke-width="2" fill="none"/>
<rect x="2199.3" y="727.6" width="28.6" height="28.6" fill="#fff" stroke="#5D3A9B" stroke-width="2"/>
<path d="M2250.4 577.2V648.8M2236.4 577.2H2264.4M2236.4 648.8H2264.4" stroke="#5D3A9B" stroke-width="2" fill="none"/>
<rect x="2236.1" y="598.7" width="28.6" height="28.6" fill="#fff" stroke="#5D3A9B" stroke-width="2"/>

<rect x="2240.3" y="715.3" width="28.6" height="28.6" fill="#fff" stroke="#5D3A9B" stroke-width="2"/>
<path d="M2281.4 722.0V771.2M2267.4 722.0H2295.4M2267.4 771.2H2295.4" stroke="#5D3A9B" stroke-width="2" fill="none"/>
<rect x="2267.1" y="732.3" width="28.6" height="28.6" fill="#fff" stroke="#5D3A9B" stroke-width="2"/>
<path d="M2290.6 717.0V787.0M2276.6 717.0H2304.6M2276.6 787.0H2304.6" stroke="#5D3A9B" stroke-width="2" fill="none"/>
<rect x="2276.3" y="737.7" width="28.6" height="28.6" fill="#fff" stroke="#5D3A9B" stroke-width="2"/>
<path d="M2290.6 745.4V799.0M2276.6 745.4H2304.6M2276.6 799.0H2304.6" stroke="#5D3A9B" stroke-width="2" fill="none"/>
<rect x="2276.3" y="757.9" width="28.6" height="28.6" fill="#fff" stroke="#5D3A9B" stroke-width="2"/>

<rect x="281.1" y="678.4" width="28.6" height="28.6" fill="#fff" stroke="#5D3A9B" stroke-width="2"/>
<path d="M326.4 660.1V737.5M312.4 660.1H340.4M312.4 737.5H340.4" stroke="#5D3A9B" stroke-width="2" fill="none"/>
<rect x="312.1" y="684.5" width="28.6" height="28.6" fill="#fff" stroke="#5D3A9B" stroke-width="2"/>
<path d="M340.4 643.0V674.2M326.4 643.0H354.4M326.4 674.2H354.4" stroke="#5D3A9B" stroke-width="2" fill="none"/>
<rect x="326.1" y="644.3" width="28.6" height="28.6" fill="#fff" stroke="#5D3A9B" stroke-width="2"/>
<path d="M385.0 627.8V664.7M371.0 627.8H399.0M371.0 664.7H399.0" stroke="#5D3A9B" stroke-width="2" fill="none"/>
<rect x="370.7" y="632.0" width="28.6" height="28.6" fill="#fff" stroke="#5D3A9B" stroke-width="2"/>
<path d="M500.0 632.2V667.8M486.0 632.2H514.0M486.0 667.8H514.0" stroke="#5D3A9B" stroke-width="2" fill="none"/>
<rect x="485.7" y="635.7" width="28.6" height="28.6" fill="#fff" stroke="#5D3A9B" stroke-width="2"/>
<path d="M507.2 631.7V673.1M493.2 631.7H521.2M493.2 673.1H521.2" stroke="#5D3A9B" stroke-width="2" fill="none"/>
<rect x="492.9" y="638.1" width="28.6" height="28.6" fill="#fff" stroke="#5D3A9B" stroke-width="2"/>

<rect x="646.8" y="624.5" width="28.6" height="28.6" fill="#fff" stroke="#5D3A9B" stroke-width="2"/>
<path d="M1003.1 599.2V641.2M989.1 599.2H1017.1M989.1 641.2H1017.1" stroke="#5D3A9B" stroke-width="2" fill="none"/>
<rect x="988.8" y="605.9" width="28.6" height="28.6" fill="#fff" stroke="#5D3A9B" stroke-width="2"/>
<path d="M1200.7 596.9V638.6M1186.7 596.9H1214.7M1186.7 638.6H1214.7" stroke="#5D3A9B" stroke-width="2" fill="none"/>
<rect x="1186.4" y="602.7" width="28.6" height="28.6" fill="#fff" stroke="#5D3A9B" stroke-width="2"/>
<path d="M1422.9 748.3V824.7M1408.9 748.3H1436.9M1408.9 824.7H1436.9" stroke="#5D3A9B" stroke-width="2" fill="none"/>
<rect x="1408.6" y="772.1" width="28.6" height="28.6" fill="#fff" stroke="#5D3A9B" stroke-width="2"/>
<path d="M326.1 658.3V718.5M312.1 658.3H340.1M312.1 718.5H340.1" stroke="#D41159" stroke-width="2" fill="none"/>
<circle cx="326.1" cy="688.4" r="15" fill="#D41159"/>
<path d="M373.6 621.4V684.3M359.6 621.4H387.6M359.6 684.3H387.6" stroke="#D41159" stroke-width="2" fill="none"/>
<circle cx="373.6" cy="654.2" r="15" fill="#D41159"/>
<path d="M1777.5 379.3V536.4M1763.5 379.3H1791.5M1763.5 536.4H1791.5" stroke="#5D3A9B" stroke-width="2" fill="none"/>
<rect x="1762.0" y="483.6" width="31" height="31" fill="#5D3A9B"/>
<path d="M1777.5 438.4V540.3M1763.5 438.4H1791.5M1763.5 540.3H1791.5" stroke="#5D3A9B" stroke-width="2" fill="none"/>
<rect x="1762.0" y="499.6" width="31" height="31" fill="#5D3A9B"/>

<rect x="1762.0" y="562.9" width="31" height="31" fill="#5D3A9B"/>
<path d="M1773.0 438.0V673.2M1759.0 438.0H1787.0M1759.0 673.2H1787.0" stroke="#5D3A9B" stroke-width="2" fill="none"/>
<rect x="1757.5" y="605.2" width="31" height="31" fill="#5D3A9B"/>
<path d="M1733.9 662.1V774.5M1719.9 662.1H1747.9M1719.9 774.5H1747.9" stroke="#5D3A9B" stroke-width="2" fill="none"/>
<rect x="1718.4" y="702.9" width="31" height="31" fill="#5D3A9B"/>
<path d="M1733.9 876.8V997.2M1719.9 876.8H1747.9M1719.9 997.2H1747.9" stroke="#5D3A9B" stroke-width="2" fill="none"/>
<rect x="1718.4" y="921.5" width="31" height="31" fill="#5D3A9B"/>
<path d="M1773.0 735.5V786.5M1759.0 735.5H1787.0M1759.0 786.5H1787.0" stroke="#5D3A9B" stroke-width="2" fill="none"/>
<rect x="1757.5" y="745.5" width="31" height="31" fill="#5D3A9B"/>

<rect x="1762.0" y="764.7" width="31" height="31" fill="#5D3A9B"/>

<rect x="1762.0" y="798.9" width="31" height="31" fill="#5D3A9B"/>
<path d="M1827.2 461.0V716.4M1813.2 461.0H1841.2M1813.2 716.4H1841.2" stroke="#5D3A9B" stroke-width="2" fill="none"/>
<rect x="1811.7" y="587.0" width="31" height="31" fill="#5D3A9B"/>

<rect x="1808.3" y="600.9" width="31" height="31" fill="#5D3A9B"/>

<rect x="1810.2" y="766.9" width="31" height="31" fill="#5D3A9B"/>
<path d="M1823.5 759.0V818.0M1809.5 759.0H1837.5M1809.5 818.0H1837.5" stroke="#5D3A9B" stroke-width="2" fill="none"/>
<rect x="1808.0" y="773.3" width="31" height="31" fill="#5D3A9B"/>
<path d="M1957.7 465.4V554.8M1943.7 465.4H1971.7M1943.7 554.8H1971.7" stroke="#5D3A9B" stroke-width="2" fill="none"/>
<rect x="1942.2" y="494.5" width="31" height="31" fill="#5D3A9B"/>
<path d="M1985.8 381.0V465.2M1971.8 381.0H1999.8M1971.8 465.2H1999.8" stroke="#5D3A9B" stroke-width="2" fill="none"/>
<rect x="1970.3" y="407.9" width="31" height="31" fill="#5D3A9B"/>
<path d="M1985.8 274.0V646.0M1971.8 274.0H1999.8M1971.8 646.0H1999.8" stroke="#5D3A9B" stroke-width="2" fill="none"/>
<rect x="1970.3" y="513.9" width="31" height="31" fill="#5D3A9B"/>
<path d="M2042.8 366.3V443.9M2028.8 366.3H2056.8M2028.8 443.9H2056.8" stroke="#5D3A9B" stroke-width="2" fill="none"/>
<rect x="2027.3" y="389.6" width="31" height="31" fill="#5D3A9B"/>
<path d="M2044.0 409.9V479.1M2030.0 409.9H2058.0M2030.0 479.1H2058.0" stroke="#5D3A9B" stroke-width="2" fill="none"/>
<rect x="2028.5" y="429.0" width="31" height="31" fill="#5D3A9B"/>
<path d="M1957.7 761.2V798.2M1943.7 761.2H1971.7M1943.7 798.2H1971.7" stroke="#5D3A9B" stroke-width="2" fill="none"/>
<rect x="1942.2" y="764.2" width="31" height="31" fill="#5D3A9B"/>
<path d="M1986.0 713.7V771.2M1972.0 713.7H2000.0M1972.0 771.2H2000.0" stroke="#5D3A9B" stroke-width="2" fill="none"/>
<rect x="1970.5" y="726.5" width="31" height="31" fill="#5D3A9B"/>
<path d="M1986.0 713.4V776.6M1972.0 713.4H2000.0M1972.0 776.6H2000.0" stroke="#5D3A9B" stroke-width="2" fill="none"/>
<rect x="1970.5" y="729.5" width="31" height="31" fill="#5D3A9B"/>
<path d="M2044.0 739.2V779.8M2030.0 739.2H2058.0M2030.0 779.8H2058.0" stroke="#5D3A9B" stroke-width="2" fill="none"/>
<rect x="2028.5" y="744.0" width="31" height="31" fill="#5D3A9B"/>
<path d="M2044.0 749.6V790.8M2030.0 749.6H2058.0M2030.0 790.8H2058.0" stroke="#5D3A9B" stroke-width="2" fill="none"/>
<rect x="2028.5" y="754.7" width="31" height="31" fill="#5D3A9B"/>
<path d="M2204.7 278.5V407.7M2190.7 278.5H2218.7M2190.7 407.7H2218.7" stroke="#5D3A9B" stroke-width="2" fill="none"/>
<rect x="2189.2" y="327.7" width="31" height="31" fill="#5D3A9B"/>
<path d="M2210.3 457.3V521.7M2196.3 457.3H2224.3M2196.3 521.7H2224.3" stroke="#5D3A9B" stroke-width="2" fill="none"/>
<rect x="2194.8" y="474.0" width="31" height="31" fill="#5D3A9B"/>
<path d="M2254.2 316.0V406.5M2240.2 316.0H2268.2M2240.2 406.5H2268.2" stroke="#5D3A9B" stroke-width="2" fill="none"/>
<rect x="2238.7" y="352.2" width="31" height="31" fill="#5D3A9B"/>
<path d="M2248.6 320.3V366.6M2234.6 320.3H2262.6M2234.6 366.6H2262.6" stroke="#5D3A9B" stroke-width="2" fill="none"/>
<rect x="2233.1" y="383.9" width="31" height="31" fill="#5D3A9B"/>
<path d="M2248.6 378.1V443.9M2234.6 378.1H2262.6M2234.6 443.9H2262.6" stroke="#5D3A9B" stroke-width="2" fill="none"/>
<rect x="2233.1" y="395.5" width="31" height="31" fill="#5D3A9B"/>
<path d="M2248.6 374.5V483.5M2234.6 374.5H2262.6M2234.6 483.5H2262.6" stroke="#5D3A9B" stroke-width="2" fill="none"/>
<rect x="2233.1" y="413.5" width="31" height="31" fill="#5D3A9B"/>
<path d="M2254.2 399.4V475.6M2240.2 399.4H2268.2M2240.2 475.6H2268.2" stroke="#5D3A9B" stroke-width="2" fill="none"/>
<rect x="2238.7" y="420.5" width="31" height="31" fill="#5D3A9B"/>
<path d="M2247.2 417.4V485.0M2233.2 417.4H2261.2M2233.2 485.0H2261.2" stroke="#5D3A9B" stroke-width="2" fill="none"/>
<rect x="2231.7" y="435.7" width="31" height="31" fill="#5D3A9B"/>
<path d="M2251.2 418.9V465.9M2237.2 418.9H2265.2M2237.2 465.9H2265.2" stroke="#5D3A9B" stroke-width="2" fill="none"/>
<rect x="2235.7" y="428.5" width="31" height="31" fill="#5D3A9B"/>
<path d="M2290.6 390.9V477.8M2276.6 390.9H2304.6M2276.6 477.8H2304.6" stroke="#5D3A9B" stroke-width="2" fill="none"/>
<rect x="2275.1" y="419.2" width="31" height="31" fill="#5D3A9B"/>
<path d="M2281.2 383.5V510.6M2267.2 383.5H2295.2M2267.2 510.6H2295.2" stroke="#5D3A9B" stroke-width="2" fill="none"/>
<rect x="2265.7" y="431.0" width="31" height="31" fill="#5D3A9B"/>
<path d="M2279.1 392.0V488.3M2265.1 392.0H2293.1M2265.1 488.3H2293.1" stroke="#5D3A9B" stroke-width="2" fill="none"/>
<rect x="2263.6" y="441.4" width="31" height="31" fill="#5D3A9B"/>
<path d="M2278.7 399.4V495.7M2264.7 399.4H2292.7M2264.7 495.7H2292.7" stroke="#5D3A9B" stroke-width="2" fill="none"/>
<rect x="2263.2" y="471.3" width="31" height="31" fill="#5D3A9B"/>
<path d="M2281.9 402.9V651.9M2267.9 402.9H2295.9M2267.9 651.9H2295.9" stroke="#5D3A9B" stroke-width="2" fill="none"/>
<rect x="2266.4" y="511.9" width="31" height="31" fill="#5D3A9B"/>
<path d="M2279.1 411.1V546.9M2265.1 411.1H2293.1M2265.1 546.9H2293.1" stroke="#5D3A9B" stroke-width="2" fill="none"/>
<rect x="2263.6" y="463.5" width="31" height="31" fill="#5D3A9B"/>
<path d="M2290.9 506.9V590.9M2276.9 506.9H2304.9M2276.9 590.9H2304.9" stroke="#5D3A9B" stroke-width="2" fill="none"/>
<rect x="2275.4" y="532.8" width="31" height="31" fill="#5D3A9B"/>

<rect x="2265.8" y="575.0" width="31" height="31" fill="#5D3A9B"/>
<path d="M2190.1 665.6V751.5M2176.1 665.6H2204.1M2176.1 751.5H2204.1" stroke="#5D3A9B" stroke-width="2" fill="none"/>
<rect x="2174.6" y="693.2" width="31" height="31" fill="#5D3A9B"/>
<path d="M2204.7 712.5V759.4M2190.7 712.5H2218.7M2190.7 759.4H2218.7" stroke="#5D3A9B" stroke-width="2" fill="none"/>
<rect x="2189.2" y="721.1" width="31" height="31" fill="#5D3A9B"/>
<path d="M2208.7 760.8V790.0M2194.7 760.8H2222.7M2194.7 790.0H2222.7" stroke="#5D3A9B" stroke-width="2" fill="none"/>
<rect x="2193.2" y="759.9" width="31" height="31" fill="#5D3A9B"/>
<path d="M2250.4 590.8V659.2M2236.4 590.8H2264.4M2236.4 659.2H2264.4" stroke="#5D3A9B" stroke-width="2" fill="none"/>
<rect x="2234.9" y="609.5" width="31" height="31" fill="#5D3A9B"/>
<path d="M2249.4 691.6V742.0M2235.4 691.6H2263.4M2235.4 742.0H2263.4" stroke="#5D3A9B" stroke-width="2" fill="none"/>
<rect x="2233.9" y="701.3" width="31" height="31" fill="#5D3A9B"/>

<rect x="2233.9" y="735.4" width="31" height="31" fill="#5D3A9B"/>
<path d="M2248.4 742.4V785.0M2234.4 742.4H2262.4M2234.4 785.0H2262.4" stroke="#5D3A9B" stroke-width="2" fill="none"/>
<rect x="2232.9" y="748.2" width="31" height="31" fill="#5D3A9B"/>
<path d="M2281.4 539.0V644.3M2267.4 539.0H2295.4M2267.4 644.3H2295.4" stroke="#5D3A9B" stroke-width="2" fill="none"/>
<rect x="2265.9" y="574.4" width="31" height="31" fill="#5D3A9B"/>
<path d="M2281.4 534.5V663.5M2267.4 534.5H2295.4M2267.4 663.5H2295.4" stroke="#5D3A9B" stroke-width="2" fill="none"/>
<rect x="2265.9" y="583.5" width="31" height="31" fill="#5D3A9B"/>

<rect x="2263.2" y="748.2" width="31" height="31" fill="#5D3A9B"/>
<path d="M2190.3 495.0V574.4M2176.3 495.0H2204.3M2176.3 574.4H2204.3" stroke="#5D3A9B" stroke-width="2" fill="none"/>
<rect x="2174.8" y="518.6" width="31" height="31" fill="#5D3A9B"/>
<path d="M325.2 72.4V142.6M311.2 72.4H339.2M311.2 142.6H339.2" stroke="#5D3A9B" stroke-width="2" fill="none"/>
<rect x="309.7" y="92.0" width="31" height="31" fill="#5D3A9B"/>
<path d="M326.5 85.2V150.8M312.5 85.2H340.5M312.5 150.8H340.5" stroke="#5D3A9B" stroke-width="2" fill="none"/>
<rect x="311.0" y="102.5" width="31" height="31" fill="#5D3A9B"/>
<path d="M323.5 99.8V152.2M309.5 99.8H337.5M309.5 152.2H337.5" stroke="#5D3A9B" stroke-width="2" fill="none"/>
<rect x="308.0" y="110.5" width="31" height="31" fill="#5D3A9B"/>

<rect x="358.5" y="610.8" width="31" height="31" fill="#5D3A9B"/>
<path d="M374.4 832.3V991.3M360.4 832.3H388.4M360.4 991.3H388.4" stroke="#5D3A9B" stroke-width="2" fill="none"/>
<rect x="358.9" y="896.6" width="31" height="31" fill="#5D3A9B"/>
<path d="M635.9 613.3V652.8M621.9 613.3H649.9M621.9 652.8H649.9" stroke="#5D3A9B" stroke-width="2" fill="none"/>
<rect x="620.4" y="617.5" width="31" height="31" fill="#5D3A9B"/>
<path d="M635.9 939.9V1014.7M621.9 939.9H649.9M621.9 1014.7H649.9" stroke="#5D3A9B" stroke-width="2" fill="none"/>
<rect x="620.4" y="961.8" width="31" height="31" fill="#5D3A9B"/>
<path d="M928.5 646.3V771.2M914.5 646.3H942.5M914.5 771.2H942.5" stroke="#5D3A9B" stroke-width="2" fill="none"/>
<rect x="913.0" y="731.6" width="31" height="31" fill="#5D3A9B"/>
<path d="M928.5 811.2V866.4M914.5 811.2H942.5M914.5 866.4H942.5" stroke="#5D3A9B" stroke-width="2" fill="none"/>
<rect x="913.0" y="823.3" width="31" height="31" fill="#5D3A9B"/>
<path d="M952.7 602.2V733.4M938.7 602.2H966.7M938.7 733.4H966.7" stroke="#5D3A9B" stroke-width="2" fill="none"/>
<rect x="937.2" y="652.7" width="31" height="31" fill="#5D3A9B"/>
<path d="M952.7 796.8V853.4M938.7 796.8H966.7M938.7 853.4H966.7" stroke="#5D3A9B" stroke-width="2" fill="none"/>
<rect x="937.2" y="809.6" width="31" height="31" fill="#5D3A9B"/>
<path d="M2249.8 600.0V670.8M2235.8 600.0H2263.8M2235.8 670.8H2263.8" stroke="#5D3A9B" stroke-width="2" fill="none"/>
<rect x="2235.5" y="621.1" width="28.6" height="28.6" fill="#fff" stroke="#5D3A9B" stroke-width="2"/>
<path d="M324.8 641.0V671.0M310.8 641.0H338.8M310.8 671.0H338.8" stroke="#5D3A9B" stroke-width="2" fill="none"/>
<rect x="310.5" y="641.7" width="28.6" height="28.6" fill="#fff" stroke="#5D3A9B" stroke-width="2"/>

<rect x="307.2" y="651.7" width="28.6" height="28.6" fill="#fff" stroke="#5D3A9B" stroke-width="2"/>
</g>
<path d="M176.3 1086.5V1063.2M176.3 0.2V23.5M228.8 1086.5V1063.2M228.8 0.2V23.5M281.7 1086.5V1063.2M281.7 0.2V23.5M334.7 1086.5V1063.2M334.7 0.2V23.5M386.6 1086.5V1063.2M386.6 0.2V23.5M439.0 1086.5V1063.2M439.0 0.2V23.5M492.0 1086.5V1063.2M492.0 0.2V23.5M545.0 1086.5V1063.2M545.0 0.2V23.5M596.8 1086.5V1063.2M596.8 0.2V23.5M649.2 1086.5V1063.2M649.2 0.2V23.5M702.2 1086.5V1063.2M702.2 0.2V23.5M755.2 1086.5V1063.2M755.2 0.2V23.5M807.6 1086.5V1063.2M807.6 0.2V23.5M860.0 1086.5V1063.2M860.0 0.2V23.5M913.0 1086.5V1063.2M913.0 0.2V23.5M966.0 1086.5V1063.2M966.0 0.2V23.5M1017.9 1086.5V1063.2M1017.9 0.2V23.5M1070.3 1086.5V1063.2M1070.3 0.2V23.5M1123.3 1086.5V1063.2M1123.3 0.2V23.5M1176.3 1086.5V1063.2M1176.3 0.2V23.5M1228.1 1086.5V1063.2M1228.1 0.2V23.5M1280.5 1086.5V1063.2M1280.5 0.2V23.5M1333.5 1086.5V1063.2M1333.5 0.2V23.5M1386.5 1086.5V1063.2M1386.5 0.2V23.5M1438.4 1086.5V1063.2M1438.4 0.2V23.5M1490.8 1086.5V1063.2M1490.8 0.2V23.5M1543.8 1086.5V1063.2M1543.8 0.2V23.5M1596.8 1086.5V1063.2M1596.8 0.2V23.5M1649.2 1086.5V1063.2M1649.2 0.2V23.5M1701.6 1086.5V1063.2M1701.6 0.2V23.5M1754.6 1086.5V1063.2M1754.6 0.2V23.5M1807.6 1086.5V1063.2M1807.6 0.2V23.5M1859.4 1086.5V1063.2M1859.4 0.2V23.5M1911.8 1086.5V1063.2M1911.8 0.2V23.5M1964.8 1086.5V1063.2M1964.8 0.2V23.5M2017.8 1086.5V1063.2M2017.8 0.2V23.5M2069.6 1086.5V1063.2M2069.6 0.2V23.5M2122.1 1086.5V1063.2M2122.1 0.2V23.5M2175.1 1086.5V1063.2M2175.1 0.2V23.5M2228.0 1086.5V1063.2M2228.0 0.2V23.5M2279.9 1086.5V1063.2M2279.9 0.2V23.5M124.5 1014.1H147.8M2332.3 1014.1H2309.0M124.5 833.0H147.8M2332.3 833.0H2309.0M124.5 652.0H147.8M2332.3 652.0H2309.0M124.5 470.9H147.8M2332.3 470.9H2309.0M124.5 289.9H147.8M2332.3 289.9H2309.0M124.5 108.8H147.8M2332.3 108.8H2309.0" stroke="#080808" stroke-width="2" fill="none"/>
<rect x="124.5" y="0.2" width="2207.8" height="1086.3" fill="none" stroke="#080808" stroke-width="2"/>
<g font-family="Liberation Sans, Arial, sans-serif" font-size="40" fill="#080808"><text transform="translate(117.0,1029.6) scale(0.92,1)" text-anchor="end">5</text><text transform="translate(117.0,848.5) scale(0.92,1)" text-anchor="end">10</text><text transform="translate(117.0,667.5) scale(0.92,1)" text-anchor="end">15</text><text transform="translate(117.0,486.4) scale(0.92,1)" text-anchor="end">20</text><text transform="translate(117.0,305.4) scale(0.92,1)" text-anchor="end">25</text><text transform="translate(117.0,124.3) scale(0.92,1)" text-anchor="end">30</text><text transform="translate(150.5,1122.5) rotate(-45) scale(0.92,1)" text-anchor="end">2013</text><text transform="translate(360.7,1122.5) rotate(-45) scale(0.92,1)" text-anchor="end">2014</text><text transform="translate(571.0,1122.5) rotate(-45) scale(0.92,1)" text-anchor="end">2015</text><text transform="translate(781.2,1122.5) rotate(-45) scale(0.92,1)" text-anchor="end">2016</text><text transform="translate(992.0,1122.5) rotate(-45) scale(0.92,1)" text-anchor="end">2017</text><text transform="translate(1202.3,1122.5) rotate(-45) scale(0.92,1)" text-anchor="end">2018</text><text transform="translate(1412.5,1122.5) rotate(-45) scale(0.92,1)" text-anchor="end">2019</text><text transform="translate(1622.8,1122.5) rotate(-45) scale(0.92,1)" text-anchor="end">2020</text><text transform="translate(1833.6,1122.5) rotate(-45) scale(0.92,1)" text-anchor="end">2021</text><text transform="translate(2043.8,1122.5) rotate(-45) scale(0.92,1)" text-anchor="end">2022</text><text transform="translate(2254.0,1122.5) rotate(-45) scale(0.92,1)" text-anchor="end">2023</text></g>
<g stroke="#262626" stroke-opacity="0.15" stroke-width="2.3"><line x1="254.0" y1="1261.6" x2="254.0" y2="2347.9"/><line x1="384.8" y1="1261.6" x2="384.8" y2="2347.9"/><line x1="515.7" y1="1261.6" x2="515.7" y2="2347.9"/><line x1="645.2" y1="1261.6" x2="645.2" y2="2347.9"/><line x1="774.6" y1="1261.6" x2="774.6" y2="2347.9"/><line x1="905.5" y1="1261.6" x2="905.5" y2="2347.9"/><line x1="1036.4" y1="1261.6" x2="1036.4" y2="2347.9"/><line x1="1164.4" y1="1261.6" x2="1164.4" y2="2347.9"/><line x1="1293.8" y1="1261.6" x2="1293.8" y2="2347.9"/><line x1="1424.7" y1="1261.6" x2="1424.7" y2="2347.9"/><line x1="1555.6" y1="1261.6" x2="1555.6" y2="2347.9"/><line x1="1683.6" y1="1261.6" x2="1683.6" y2="2347.9"/><line x1="1813.1" y1="1261.6" x2="1813.1" y2="2347.9"/><line x1="1943.9" y1="1261.6" x2="1943.9" y2="2347.9"/><line x1="2074.8" y1="1261.6" x2="2074.8" y2="2347.9"/><line x1="2202.8" y1="1261.6" x2="2202.8" y2="2347.9"/><line x1="124.5" y1="2275.5" x2="2332.3" y2="2275.5"/><line x1="124.5" y1="2094.4" x2="2332.3" y2="2094.4"/><line x1="124.5" y1="1913.4" x2="2332.3" y2="1913.4"/><line x1="124.5" y1="1732.3" x2="2332.3" y2="1732.3"/><line x1="124.5" y1="1551.3" x2="2332.3" y2="1551.3"/><line x1="124.5" y1="1370.2" x2="2332.3" y2="1370.2"/></g>
<g clip-path="url(#cb)">
<path d="M1182.9 1752.7V1790.0M1168.9 1752.7H1196.9M1168.9 1790.0H1196.9" stroke="#5D3A9B" stroke-width="2" fill="none"/>
<rect x="1168.6" y="1756.6" width="28.6" height="28.6" fill="#fff" stroke="#5D3A9B" stroke-width="2"/>
<path d="M1160.8 1782.6V1853.1M1146.8 1782.6H1174.8M1146.8 1853.1H1174.8" stroke="#5D3A9B" stroke-width="2" fill="none"/>
<rect x="1146.5" y="1803.4" width="28.6" height="28.6" fill="#fff" stroke="#5D3A9B" stroke-width="2"/>
<path d="M414.6 2130.4V2186.5M400.6 2130.4H428.6M400.6 2186.5H428.6" stroke="#D41159" stroke-width="2" fill="none"/>
<circle cx="414.6" cy="2158.1" r="15" fill="#D41159"/>
<path d="M456.0 2045.8V2232.3M442.0 2045.8H470.0M442.0 2232.3H470.0" stroke="#D41159" stroke-width="2" fill="none"/>
<circle cx="456.0" cy="2138.5" r="15" fill="#D41159"/>
<path d="M486.2 2133.4V2192.2M472.2 2133.4H500.2M472.2 2192.2H500.2" stroke="#D41159" stroke-width="2" fill="none"/>
<circle cx="486.2" cy="2162.6" r="15" fill="#D41159"/>
<path d="M585.0 2017.0V2113.3M571.0 2017.0H599.0M571.0 2113.3H599.0" stroke="#D41159" stroke-width="2" fill="none"/>
<circle cx="585.0" cy="2065.0" r="15" fill="#D41159"/>
<path d="M893.3 1836.0V1912.9M879.3 1836.0H907.3M879.3 1912.9H907.3" stroke="#D41159" stroke-width="2" fill="none"/>
<circle cx="893.3" cy="1874.5" r="15" fill="#D41159"/>
<path d="M792.7 2197.5V2328.5M778.7 2197.5H806.7M778.7 2328.5H806.7" stroke="#D41159" stroke-width="2" fill="none"/>
<circle cx="792.7" cy="2263.0" r="15" fill="#D41159"/>

<circle cx="854.5" cy="2263.0" r="15" fill="#D41159"/>
<path d="M893.5 2145.4V2248.4M879.5 2145.4H907.5M879.5 2248.4H907.5" stroke="#D41159" stroke-width="2" fill="none"/>
<circle cx="893.5" cy="2196.9" r="15" fill="#D41159"/>
<path d="M893.5 2178.5V2264.3M879.5 2178.5H907.5M879.5 2264.3H907.5" stroke="#D41159" stroke-width="2" fill="none"/>
<circle cx="893.5" cy="2221.4" r="15" fill="#D41159"/>
<path d="M925.5 2124.4V2290.0M911.5 2124.4H939.5M911.5 2290.0H939.5" stroke="#D41159" stroke-width="2" fill="none"/>
<circle cx="925.5" cy="2175.6" r="15" fill="#D41159"/>
<path d="M951.1 2083.5V2139.7M937.1 2083.5H965.1M937.1 2139.7H965.1" stroke="#D41159" stroke-width="2" fill="none"/>
<circle cx="951.1" cy="2111.6" r="15" fill="#D41159"/>

<circle cx="962.2" cy="2105.2" r="15" fill="#D41159"/>

<circle cx="972.4" cy="2126.5" r="15" fill="#D41159"/>
<path d="M982.4 2107.9V2183.5M968.4 2107.9H996.4M968.4 2183.5H996.4" stroke="#D41159" stroke-width="2" fill="none"/>
<circle cx="982.4" cy="2145.7" r="15" fill="#D41159"/>
<path d="M1019.3 2079.6V2143.6M1005.3 2079.6H1033.3M1005.3 2143.6H1033.3" stroke="#D41159" stroke-width="2" fill="none"/>
<circle cx="1019.3" cy="2111.6" r="15" fill="#D41159"/>
<path d="M1021.4 2090.7V2149.5M1007.4 2090.7H1035.4M1007.4 2149.5H1035.4" stroke="#D41159" stroke-width="2" fill="none"/>
<circle cx="1021.4" cy="2120.1" r="15" fill="#D41159"/>
<path d="M1045.3 2145.7V2211.8M1031.3 2145.7H1059.3M1031.3 2211.8H1059.3" stroke="#D41159" stroke-width="2" fill="none"/>
<circle cx="1045.3" cy="2178.8" r="15" fill="#D41159"/>

<circle cx="1064.0" cy="2012.5" r="15" fill="#D41159"/>
<path d="M1062.0 2095.2V2166.4M1048.0 2095.2H1076.0M1048.0 2166.4H1076.0" stroke="#D41159" stroke-width="2" fill="none"/>
<circle cx="1062.0" cy="2130.8" r="15" fill="#D41159"/>
<path d="M1076.9 2091.4V2146.8M1062.9 2091.4H1090.9M1062.9 2146.8H1090.9" stroke="#D41159" stroke-width="2" fill="none"/>
<circle cx="1076.9" cy="2119.1" r="15" fill="#D41159"/>
<path d="M1182.9 1765.3V1833.9M1168.9 1765.3H1196.9M1168.9 1833.9H1196.9" stroke="#D41159" stroke-width="2" fill="none"/>
<circle cx="1182.9" cy="1799.6" r="15" fill="#D41159"/>
<path d="M1143.2 2076.4V2134.6M1129.2 2076.4H1157.2M1129.2 2134.6H1157.2" stroke="#D41159" stroke-width="2" fill="none"/>
<circle cx="1143.2" cy="2104.7" r="15" fill="#D41159"/>
<path d="M1155.2 2064.4V2159.6M1141.2 2064.4H1169.2M1141.2 2159.6H1169.2" stroke="#D41159" stroke-width="2" fill="none"/>
<circle cx="1155.2" cy="2111.9" r="15" fill="#D41159"/>
<path d="M1351.4 2120.7V2194.3M1337.4 2120.7H1365.4M1337.4 2194.3H1365.4" stroke="#D41159" stroke-width="2" fill="none"/>
<circle cx="1351.4" cy="2157.2" r="15" fill="#D41159"/>
<path d="M1362.4 2173.0V2338.8M1348.4 2173.0H1376.4M1348.4 2338.8H1376.4" stroke="#D41159" stroke-width="2" fill="none"/>
<circle cx="1362.4" cy="2255.9" r="15" fill="#D41159"/>
<path d="M1645.5 1794.0V1845.8M1631.5 1794.0H1659.5M1631.5 1845.8H1659.5" stroke="#D41159" stroke-width="2" fill="none"/>
<circle cx="1645.5" cy="1820.0" r="15" fill="#D41159"/>
<path d="M1407.1 2076.9V2175.1M1393.1 2076.9H1421.1M1393.1 2175.1H1421.1" stroke="#D41159" stroke-width="2" fill="none"/>
<circle cx="1407.1" cy="2126.0" r="15" fill="#D41159"/>
<path d="M1405.0 2183.0V2237.3M1391.0 2183.0H1419.0M1391.0 2237.3H1419.0" stroke="#D41159" stroke-width="2" fill="none"/>
<circle cx="1405.0" cy="2209.8" r="15" fill="#D41159"/>
<path d="M1620.3 2083.8V2148.0M1606.3 2083.8H1634.3M1606.3 2148.0H1634.3" stroke="#D41159" stroke-width="2" fill="none"/>
<circle cx="1620.3" cy="2115.8" r="15" fill="#D41159"/>
<path d="M1658.2 2079.8V2102.8M1644.2 2079.8H1672.2M1644.2 2102.8H1672.2" stroke="#D41159" stroke-width="2" fill="none"/>
<circle cx="1658.2" cy="2091.3" r="15" fill="#D41159"/>
<path d="M1658.2 2103.1V2152.3M1644.2 2103.1H1672.2M1644.2 2152.3H1672.2" stroke="#D41159" stroke-width="2" fill="none"/>
<circle cx="1658.2" cy="2127.7" r="15" fill="#D41159"/>
<path d="M1981.2 1770.6V1887.4M1967.2 1770.6H1995.2M1967.2 1887.4H1995.2" stroke="#D41159" stroke-width="2" fill="none"/>
<circle cx="1981.2" cy="1829.0" r="15" fill="#D41159"/>
<path d="M2039.1 2073.7V2143.0M2025.1 2073.7H2053.1M2025.1 2143.0H2053.1" stroke="#D41159" stroke-width="2" fill="none"/>
<circle cx="2039.1" cy="2095.0" r="15" fill="#D41159"/>
<path d="M2030.0 2080.0V2136.2M2016.0 2080.0H2044.0M2016.0 2136.2H2044.0" stroke="#D41159" stroke-width="2" fill="none"/>
<circle cx="2030.0" cy="2106.8" r="15" fill="#D41159"/>
<path d="M2039.1 2072.7V2147.3M2025.1 2072.7H2053.1M2025.1 2147.3H2053.1" stroke="#D41159" stroke-width="2" fill="none"/>
<circle cx="2039.1" cy="2110.0" r="15" fill="#D41159"/>

<circle cx="2140.4" cy="2030.0" r="15" fill="#D41159"/>
<path d="M2127.6 2033.2V2120.6M2113.6 2033.2H2141.6M2113.6 2120.6H2141.6" stroke="#D41159" stroke-width="2" fill="none"/>
<circle cx="2127.6" cy="2076.9" r="15" fill="#D41159"/>
<path d="M2140.4 2037.4V2135.6M2126.4 2037.4H2154.4M2126.4 2135.6H2154.4" stroke="#D41159" stroke-width="2" fill="none"/>
<circle cx="2140.4" cy="2086.5" r="15" fill="#D41159"/>
<path d="M2127.6 2047.0V2145.2M2113.6 2047.0H2141.6M2113.6 2145.2H2141.6" stroke="#D41159" stroke-width="2" fill="none"/>
<circle cx="2127.6" cy="2096.1" r="15" fill="#D41159"/>
<path d="M2140.4 2064.1V2147.3M2126.4 2064.1H2154.4M2126.4 2147.3H2154.4" stroke="#D41159" stroke-width="2" fill="none"/>
<circle cx="2140.4" cy="2105.7" r="15" fill="#D41159"/>
<path d="M2127.6 2081.1V2147.3M2113.6 2081.1H2141.6M2113.6 2147.3H2141.6" stroke="#D41159" stroke-width="2" fill="none"/>
<circle cx="2127.6" cy="2114.2" r="15" fill="#D41159"/>

<circle cx="2206.5" cy="2036.4" r="15" fill="#D41159"/>

<circle cx="2229.3" cy="2065.2" r="15" fill="#D41159"/>
<path d="M2229.3 2003.8V2190.6M2215.3 2003.8H2243.3M2215.3 2190.6H2243.3" stroke="#D41159" stroke-width="2" fill="none"/>
<circle cx="2229.3" cy="2097.2" r="15" fill="#D41159"/>
<path d="M2206.5 2055.0V2135.0M2192.5 2055.0H2220.5M2192.5 2135.0H2220.5" stroke="#D41159" stroke-width="2" fill="none"/>
<circle cx="2206.5" cy="2095.0" r="15" fill="#D41159"/>
<path d="M2206.5 2072.0V2150.0M2192.5 2072.0H2220.5M2192.5 2150.0H2220.5" stroke="#D41159" stroke-width="2" fill="none"/>
<circle cx="2206.5" cy="2111.0" r="15" fill="#D41159"/>
<path d="M2229.3 2052.0V2235.0M2215.3 2052.0H2243.3M2215.3 2235.0H2243.3" stroke="#D41159" stroke-width="2" fill="none"/>
<circle cx="2229.3" cy="2143.7" r="15" fill="#D41159"/>
<path d="M414.6 2074.0V2124.0M400.6 2074.0H428.6M400.6 2124.0H428.6" stroke="#E66100" stroke-width="2" fill="none"/>
<path d="M414.6 2079.3L429.9 2099.0L414.6 2118.7L399.3 2099.0Z" fill="#E66100"/>
<path d="M456.0 1876.2V2161.5M442.0 1876.2H470.0M442.0 2161.5H470.0" stroke="#E66100" stroke-width="2" fill="none"/>
<path d="M456.0 1999.2L471.3 2018.9L456.0 2038.6L440.7 2018.9Z" fill="#E66100"/>
<path d="M486.2 2046.0V2106.5M472.2 2046.0H500.2M472.2 2106.5H500.2" stroke="#E66100" stroke-width="2" fill="none"/>
<path d="M486.2 2056.5L501.5 2076.2L486.2 2095.9L470.9 2076.2Z" fill="#E66100"/>
<path d="M585.0 1978.6V2042.1M571.0 1978.6H599.0M571.0 2042.1H599.0" stroke="#E66100" stroke-width="2" fill="none"/>
<path d="M585.0 1990.7L600.3 2010.4L585.0 2030.1L569.7 2010.4Z" fill="#E66100"/>
<path d="M893.3 1634.3V1807.7M879.3 1634.3H907.3M879.3 1807.7H907.3" stroke="#E66100" stroke-width="2" fill="none"/>
<path d="M893.3 1701.4L908.6 1721.1L893.3 1740.8L878.0 1721.1Z" fill="#E66100"/>
<path d="M792.7 2006.5V2115.4M778.7 2006.5H806.7M778.7 2115.4H806.7" stroke="#E66100" stroke-width="2" fill="none"/>
<path d="M792.7 2040.7L808.0 2060.4L792.7 2080.1L777.4 2060.4Z" fill="#E66100"/>
<path d="M854.5 1999.2V2145.7M840.5 1999.2H868.5M840.5 2145.7H868.5" stroke="#E66100" stroke-width="2" fill="none"/>
<path d="M854.5 2052.9L869.8 2072.6L854.5 2092.3L839.2 2072.6Z" fill="#E66100"/>
<path d="M893.5 2000.7V2160.7M879.5 2000.7H907.5M879.5 2160.7H907.5" stroke="#E66100" stroke-width="2" fill="none"/>
<path d="M893.5 2061.0L908.8 2080.7L893.5 2100.4L878.2 2080.7Z" fill="#E66100"/>
<path d="M893.5 2081.7V2171.3M879.5 2081.7H907.5M879.5 2171.3H907.5" stroke="#E66100" stroke-width="2" fill="none"/>
<path d="M893.5 2106.8L908.8 2126.5L893.5 2146.2L878.2 2126.5Z" fill="#E66100"/>
<path d="M925.5 2107.8V2279.6M911.5 2107.8H939.5M911.5 2279.6H939.5" stroke="#E66100" stroke-width="2" fill="none"/>
<path d="M925.5 2174.0L940.8 2193.7L925.5 2213.4L910.2 2193.7Z" fill="#E66100"/>

<path d="M951.1 2061.0L966.4 2080.7L951.1 2100.4L935.8 2080.7Z" fill="#E66100"/>
<path d="M982.4 2005.0V2114.8M968.4 2005.0H996.4M968.4 2114.8H996.4" stroke="#E66100" stroke-width="2" fill="none"/>
<path d="M982.4 2061.0L997.7 2080.7L982.4 2100.4L967.1 2080.7Z" fill="#E66100"/>
<path d="M1017.2 2045.6V2092.4M1003.2 2045.6H1031.2M1003.2 2092.4H1031.2" stroke="#E66100" stroke-width="2" fill="none"/>
<path d="M1017.2 2049.3L1032.5 2069.0L1017.2 2088.7L1001.9 2069.0Z" fill="#E66100"/>
<path d="M1045.3 1996.5V2091.3M1031.3 1996.5H1059.3M1031.3 2091.3H1059.3" stroke="#E66100" stroke-width="2" fill="none"/>
<path d="M1045.3 2027.9L1060.6 2047.6L1045.3 2067.3L1030.0 2047.6Z" fill="#E66100"/>
<path d="M1076.9 2051.8V2111.6M1062.9 2051.8H1090.9M1062.9 2111.6H1090.9" stroke="#E66100" stroke-width="2" fill="none"/>
<path d="M1076.9 2062.0L1092.2 2081.7L1076.9 2101.4L1061.6 2081.7Z" fill="#E66100"/>
<path d="M1058.8 1869.2V1898.4M1044.8 1869.2H1072.8M1044.8 1898.4H1072.8" stroke="#E66100" stroke-width="2" fill="none"/>
<path d="M1058.8 1863.8L1074.1 1883.5L1058.8 1903.2L1043.5 1883.5Z" fill="#E66100"/>
<path d="M1182.9 1539.1V1718.1M1168.9 1539.1H1196.9M1168.9 1718.1H1196.9" stroke="#E66100" stroke-width="2" fill="none"/>
<path d="M1182.9 1608.8L1198.2 1628.5L1182.9 1648.2L1167.6 1628.5Z" fill="#E66100"/>
<path d="M1143.2 2002.9V2053.9M1129.2 2002.9H1157.2M1129.2 2053.9H1157.2" stroke="#E66100" stroke-width="2" fill="none"/>
<path d="M1143.2 2008.7L1158.5 2028.4L1143.2 2048.1L1127.9 2028.4Z" fill="#E66100"/>
<path d="M1154.9 2025.1V2077.9M1140.9 2025.1H1168.9M1140.9 2077.9H1168.9" stroke="#E66100" stroke-width="2" fill="none"/>
<path d="M1154.9 2031.8L1170.2 2051.5L1154.9 2071.2L1139.6 2051.5Z" fill="#E66100"/>
<path d="M1351.4 2023.2V2114.8M1337.4 2023.2H1365.4M1337.4 2114.8H1365.4" stroke="#E66100" stroke-width="2" fill="none"/>
<path d="M1351.4 2049.5L1366.7 2069.2L1351.4 2088.9L1336.1 2069.2Z" fill="#E66100"/>
<path d="M1362.3 2039.6V2146.8M1348.3 2039.6H1376.3M1348.3 2146.8H1376.3" stroke="#E66100" stroke-width="2" fill="none"/>
<path d="M1362.3 2073.3L1377.6 2093.0L1362.3 2112.7L1347.0 2093.0Z" fill="#E66100"/>
<path d="M1645.5 1512.2V1573.8M1631.5 1512.2H1659.5M1631.5 1573.8H1659.5" stroke="#E66100" stroke-width="2" fill="none"/>
<path d="M1645.5 1523.2L1660.8 1542.9L1645.5 1562.6L1630.2 1542.9Z" fill="#E66100"/>
<path d="M1407.1 2040.1V2126.7M1393.1 2040.1H1421.1M1393.1 2126.7H1421.1" stroke="#E66100" stroke-width="2" fill="none"/>
<path d="M1407.1 2063.7L1422.4 2083.4L1407.1 2103.1L1391.8 2083.4Z" fill="#E66100"/>
<path d="M1620.3 1974.7V2039.1M1606.3 1974.7H1634.3M1606.3 2039.1H1634.3" stroke="#E66100" stroke-width="2" fill="none"/>
<path d="M1620.3 1987.2L1635.6 2006.9L1620.3 2026.6L1605.0 2006.9Z" fill="#E66100"/>
<path d="M1658.2 2016.7V2075.9M1644.2 2016.7H1672.2M1644.2 2075.9H1672.2" stroke="#E66100" stroke-width="2" fill="none"/>
<path d="M1658.2 2030.3L1673.5 2050.0L1658.2 2069.7L1642.9 2050.0Z" fill="#E66100"/>
<path d="M1981.5 1641.5V1726.3M1967.5 1641.5H1995.5M1967.5 1726.3H1995.5" stroke="#E66100" stroke-width="2" fill="none"/>
<path d="M1981.5 1664.2L1996.8 1683.9L1981.5 1703.6L1966.2 1683.9Z" fill="#E66100"/>
<path d="M2129.8 1534.6V1593.0M2115.8 1534.6H2143.8M2115.8 1593.0H2143.8" stroke="#E66100" stroke-width="2" fill="none"/>
<path d="M2129.8 1543.6L2145.1 1563.3L2129.8 1583.0L2114.5 1563.3Z" fill="#E66100"/>
<path d="M2200.6 1537.3V1581.9M2186.6 1537.3H2214.6M2186.6 1581.9H2214.6" stroke="#E66100" stroke-width="2" fill="none"/>
<path d="M2200.6 1539.8L2215.9 1559.5L2200.6 1579.2L2185.3 1559.5Z" fill="#E66100"/>
<path d="M2129.4 1730.6V1765.4M2115.4 1730.6H2143.4M2115.4 1765.4H2143.4" stroke="#E66100" stroke-width="2" fill="none"/>
<path d="M2129.4 1728.5L2144.7 1748.2L2129.4 1767.9L2114.1 1748.2Z" fill="#E66100"/>
<path d="M2039.1 1975.2V2064.0M2025.1 1975.2H2053.1M2025.1 2064.0H2053.1" stroke="#E66100" stroke-width="2" fill="none"/>
<path d="M2039.1 2022.0L2054.4 2041.7L2039.1 2061.4L2023.8 2041.7Z" fill="#E66100"/>
<path d="M2030.0 2032.2V2068.4M2016.0 2032.2H2044.0M2016.0 2068.4H2044.0" stroke="#E66100" stroke-width="2" fill="none"/>
<path d="M2030.0 2030.6L2045.3 2050.3L2030.0 2070.0L2014.7 2050.3Z" fill="#E66100"/>
<path d="M2140.4 1949.4V2030.6M2126.4 1949.4H2154.4M2126.4 2030.6H2154.4" stroke="#E66100" stroke-width="2" fill="none"/>
<path d="M2140.4 1970.3L2155.7 1990.0L2140.4 2009.7L2125.1 1990.0Z" fill="#E66100"/>
<path d="M2140.4 2020.0V2070.0M2126.4 2020.0H2154.4M2126.4 2070.0H2154.4" stroke="#E66100" stroke-width="2" fill="none"/>
<path d="M2140.4 2025.3L2155.7 2045.0L2140.4 2064.7L2125.1 2045.0Z" fill="#E66100"/>
<path d="M2127.6 2034.0V2090.0M2113.6 2034.0H2141.6M2113.6 2090.0H2141.6" stroke="#E66100" stroke-width="2" fill="none"/>
<path d="M2127.6 2042.3L2142.9 2062.0L2127.6 2081.7L2112.3 2062.0Z" fill="#E66100"/>
<path d="M2206.5 1990.0V2110.0M2192.5 1990.0H2220.5M2192.5 2110.0H2220.5" stroke="#E66100" stroke-width="2" fill="none"/>
<path d="M2206.5 2043.4L2221.8 2063.1L2206.5 2082.8L2191.2 2063.1Z" fill="#E66100"/>
<path d="M2229.3 1963.3V2150.0M2215.3 1963.3H2243.3M2215.3 2150.0H2243.3" stroke="#E66100" stroke-width="2" fill="none"/>
<path d="M2229.3 2038.3L2244.6 2058.0L2229.3 2077.7L2214.0 2058.0Z" fill="#E66100"/>
<path d="M893.3 1529.4V1591.3M879.3 1529.4H907.3M879.3 1591.3H907.3" stroke="#1A85FF" stroke-width="2" fill="none"/>
<path d="M893.3 1541.4L909.8 1569.9L876.8 1569.9Z" fill="#fff" stroke="#1A85FF" stroke-width="2"/>
<path d="M1489.2 1542.9V1589.8M1475.2 1542.9H1503.2M1475.2 1589.8H1503.2" stroke="#1A85FF" stroke-width="2" fill="none"/>
<path d="M1489.2 1547.4L1505.7 1575.9L1472.7 1575.9Z" fill="#fff" stroke="#1A85FF" stroke-width="2"/>
<path d="M1670.4 1503.4V1555.2M1656.4 1503.4H1684.4M1656.4 1555.2H1684.4" stroke="#1A85FF" stroke-width="2" fill="none"/>
<path d="M1670.4 1510.3L1686.9 1538.8L1653.9 1538.8Z" fill="#fff" stroke="#1A85FF" stroke-width="2"/>
<path d="M439.9 1280.4V1387.9M425.9 1280.4H453.9M425.9 1387.9H453.9" stroke="#5D3A9B" stroke-width="2" fill="none"/>
<rect x="425.6" y="1319.6" width="28.6" height="28.6" fill="#fff" stroke="#5D3A9B" stroke-width="2"/>
<path d="M397.5 1875.6V1919.3M383.5 1875.6H411.5M383.5 1919.3H411.5" stroke="#5D3A9B" stroke-width="2" fill="none"/>
<rect x="383.2" y="1882.8" width="28.6" height="28.6" fill="#fff" stroke="#5D3A9B" stroke-width="2"/>
<path d="M414.6 2052.2V2096.3M400.6 2052.2H428.6M400.6 2096.3H428.6" stroke="#5D3A9B" stroke-width="2" fill="none"/>
<rect x="400.3" y="2059.8" width="28.6" height="28.6" fill="#fff" stroke="#5D3A9B" stroke-width="2"/>
<path d="M456.0 1961.5V2099.0M442.0 1961.5H470.0M442.0 2099.0H470.0" stroke="#5D3A9B" stroke-width="2" fill="none"/>
<rect x="441.7" y="2015.7" width="28.6" height="28.6" fill="#fff" stroke="#5D3A9B" stroke-width="2"/>
<path d="M456.0 1947.2V2079.9M442.0 1947.2H470.0M442.0 2079.9H470.0" stroke="#5D3A9B" stroke-width="2" fill="none"/>
<rect x="441.7" y="1998.8" width="28.6" height="28.6" fill="#fff" stroke="#5D3A9B" stroke-width="2"/>
<path d="M486.2 2040.4V2084.8M472.2 2040.4H500.2M472.2 2084.8H500.2" stroke="#5D3A9B" stroke-width="2" fill="none"/>
<rect x="471.9" y="2048.1" width="28.6" height="28.6" fill="#fff" stroke="#5D3A9B" stroke-width="2"/>
<path d="M585.0 1990.3V2040.4M571.0 1990.3H599.0M571.0 2040.4H599.0" stroke="#5D3A9B" stroke-width="2" fill="none"/>
<rect x="570.7" y="2000.5" width="28.6" height="28.6" fill="#fff" stroke="#5D3A9B" stroke-width="2"/>
<path d="M893.3 1811.7V1873.5M879.3 1811.7H907.3M879.3 1873.5H907.3" stroke="#5D3A9B" stroke-width="2" fill="none"/>
<rect x="879.0" y="1828.3" width="28.6" height="28.6" fill="#fff" stroke="#5D3A9B" stroke-width="2"/>

<rect x="879.0" y="1834.7" width="28.6" height="28.6" fill="#fff" stroke="#5D3A9B" stroke-width="2"/>
<path d="M792.7 1996.5V2170.2M778.7 1996.5H806.7M778.7 2170.2H806.7" stroke="#5D3A9B" stroke-width="2" fill="none"/>
<rect x="778.4" y="2068.9" width="28.6" height="28.6" fill="#fff" stroke="#5D3A9B" stroke-width="2"/>
<path d="M893.5 1994.3V2058.3M879.5 1994.3H907.5M879.5 2058.3H907.5" stroke="#5D3A9B" stroke-width="2" fill="none"/>
<rect x="879.2" y="2012.0" width="28.6" height="28.6" fill="#fff" stroke="#5D3A9B" stroke-width="2"/>
<path d="M893.5 1900.7V2217.1M879.5 1900.7H907.5M879.5 2217.1H907.5" stroke="#5D3A9B" stroke-width="2" fill="none"/>
<rect x="879.2" y="2044.6" width="28.6" height="28.6" fill="#fff" stroke="#5D3A9B" stroke-width="2"/>
<path d="M925.5 1892.4V2225.0M911.5 1892.4H939.5M911.5 2225.0H939.5" stroke="#5D3A9B" stroke-width="2" fill="none"/>
<rect x="911.2" y="2042.3" width="28.6" height="28.6" fill="#fff" stroke="#5D3A9B" stroke-width="2"/>
<path d="M987.3 2016.7V2087.1M973.3 2016.7H1001.3M973.3 2087.1H1001.3" stroke="#5D3A9B" stroke-width="2" fill="none"/>
<rect x="973.0" y="2037.6" width="28.6" height="28.6" fill="#fff" stroke="#5D3A9B" stroke-width="2"/>
<path d="M1008.7 1964.9V2030.1M994.7 1964.9H1022.7M994.7 2030.1H1022.7" stroke="#5D3A9B" stroke-width="2" fill="none"/>
<rect x="994.4" y="1983.2" width="28.6" height="28.6" fill="#fff" stroke="#5D3A9B" stroke-width="2"/>
<path d="M1016.5 1989.0V2056.0M1002.5 1989.0H1030.5M1002.5 2056.0H1030.5" stroke="#5D3A9B" stroke-width="2" fill="none"/>
<rect x="1002.2" y="2008.2" width="28.6" height="28.6" fill="#fff" stroke="#5D3A9B" stroke-width="2"/>

<rect x="1031.0" y="2007.1" width="28.6" height="28.6" fill="#fff" stroke="#5D3A9B" stroke-width="2"/>
<path d="M1059.2 1953.8V2022.0M1045.2 1953.8H1073.2M1045.2 2022.0H1073.2" stroke="#5D3A9B" stroke-width="2" fill="none"/>
<rect x="1044.9" y="1973.6" width="28.6" height="28.6" fill="#fff" stroke="#5D3A9B" stroke-width="2"/>
<path d="M1142.2 2000.0V2046.0M1128.2 2000.0H1156.2M1128.2 2046.0H1156.2" stroke="#5D3A9B" stroke-width="2" fill="none"/>
<rect x="1127.9" y="2009.0" width="28.6" height="28.6" fill="#fff" stroke="#5D3A9B" stroke-width="2"/>
<path d="M1154.9 2005.6V2050.0M1140.9 2005.6H1168.9M1140.9 2050.0H1168.9" stroke="#5D3A9B" stroke-width="2" fill="none"/>
<rect x="1140.6" y="2013.3" width="28.6" height="28.6" fill="#fff" stroke="#5D3A9B" stroke-width="2"/>
<path d="M1351.2 2005.6V2072.7M1337.2 2005.6H1365.2M1337.2 2072.7H1365.2" stroke="#5D3A9B" stroke-width="2" fill="none"/>
<rect x="1336.9" y="2026.0" width="28.6" height="28.6" fill="#fff" stroke="#5D3A9B" stroke-width="2"/>
<path d="M1362.4 2008.0V2150.0M1348.4 2008.0H1376.4M1348.4 2150.0H1376.4" stroke="#5D3A9B" stroke-width="2" fill="none"/>
<rect x="1348.1" y="2064.4" width="28.6" height="28.6" fill="#fff" stroke="#5D3A9B" stroke-width="2"/>
<path d="M1645.5 1800.4V1843.7M1631.5 1800.4H1659.5M1631.5 1843.7H1659.5" stroke="#5D3A9B" stroke-width="2" fill="none"/>
<rect x="1631.2" y="1807.9" width="28.6" height="28.6" fill="#fff" stroke="#5D3A9B" stroke-width="2"/>
<path d="M1670.4 1800.4V1917.1M1656.4 1800.4H1684.4M1656.4 1917.1H1684.4" stroke="#5D3A9B" stroke-width="2" fill="none"/>
<rect x="1656.1" y="1844.1" width="28.6" height="28.6" fill="#fff" stroke="#5D3A9B" stroke-width="2"/>
<path d="M1768.0 1767.4V1803.6M1754.0 1767.4H1782.0M1754.0 1803.6H1782.0" stroke="#5D3A9B" stroke-width="2" fill="none"/>
<rect x="1753.7" y="1771.2" width="28.6" height="28.6" fill="#fff" stroke="#5D3A9B" stroke-width="2"/>
<path d="M1405.2 2060.4V2100.5M1391.2 2060.4H1419.2M1391.2 2100.5H1419.2" stroke="#5D3A9B" stroke-width="2" fill="none"/>
<rect x="1390.9" y="2048.8" width="28.6" height="28.6" fill="#fff" stroke="#5D3A9B" stroke-width="2"/>
<path d="M1658.2 2017.6V2058.4M1644.2 2017.6H1672.2M1644.2 2058.4H1672.2" stroke="#5D3A9B" stroke-width="2" fill="none"/>
<rect x="1643.9" y="2023.7" width="28.6" height="28.6" fill="#fff" stroke="#5D3A9B" stroke-width="2"/>
<path d="M2200.0 1678.1V1904.0M2186.0 1678.1H2214.0M2186.0 1904.0H2214.0" stroke="#5D3A9B" stroke-width="2" fill="none"/>
<rect x="2185.7" y="1799.1" width="28.6" height="28.6" fill="#fff" stroke="#5D3A9B" stroke-width="2"/>
<path d="M2130.1 1838.0V1852.0M2116.1 1838.0H2144.1M2116.1 1852.0H2144.1" stroke="#5D3A9B" stroke-width="2" fill="none"/>
<rect x="2115.8" y="1852.1" width="28.6" height="28.6" fill="#fff" stroke="#5D3A9B" stroke-width="2"/>
<path d="M2039.1 1982.0V2030.0M2025.1 1982.0H2053.1M2025.1 2030.0H2053.1" stroke="#5D3A9B" stroke-width="2" fill="none"/>
<rect x="2024.8" y="1988.6" width="28.6" height="28.6" fill="#fff" stroke="#5D3A9B" stroke-width="2"/>
<path d="M2130.0 1838.2V1909.8M2116.0 1838.2H2144.0M2116.0 1909.8H2144.0" stroke="#5D3A9B" stroke-width="2" fill="none"/>
<rect x="2115.7" y="1859.7" width="28.6" height="28.6" fill="#fff" stroke="#5D3A9B" stroke-width="2"/>

<rect x="2126.1" y="1976.3" width="28.6" height="28.6" fill="#fff" stroke="#5D3A9B" stroke-width="2"/>
<path d="M2206.5 1983.0V2032.2M2192.5 1983.0H2220.5M2192.5 2032.2H2220.5" stroke="#5D3A9B" stroke-width="2" fill="none"/>
<rect x="2192.2" y="1993.3" width="28.6" height="28.6" fill="#fff" stroke="#5D3A9B" stroke-width="2"/>
<path d="M2229.3 1978.0V2048.0M2215.3 1978.0H2243.3M2215.3 2048.0H2243.3" stroke="#5D3A9B" stroke-width="2" fill="none"/>
<rect x="2215.0" y="1998.7" width="28.6" height="28.6" fill="#fff" stroke="#5D3A9B" stroke-width="2"/>
<path d="M2229.3 2006.4V2060.0M2215.3 2006.4H2243.3M2215.3 2060.0H2243.3" stroke="#5D3A9B" stroke-width="2" fill="none"/>
<rect x="2215.0" y="2018.9" width="28.6" height="28.6" fill="#fff" stroke="#5D3A9B" stroke-width="2"/>
<path d="M962.2 1640.3V1797.4M948.2 1640.3H976.2M948.2 1797.4H976.2" stroke="#5D3A9B" stroke-width="2" fill="none"/>
<rect x="946.7" y="1744.6" width="31" height="31" fill="#5D3A9B"/>
<path d="M962.2 1699.4V1801.3M948.2 1699.4H976.2M948.2 1801.3H976.2" stroke="#5D3A9B" stroke-width="2" fill="none"/>
<rect x="946.7" y="1760.6" width="31" height="31" fill="#5D3A9B"/>

<rect x="946.7" y="1823.9" width="31" height="31" fill="#5D3A9B"/>
<path d="M951.1 1699.0V1934.2M937.1 1699.0H965.1M937.1 1934.2H965.1" stroke="#5D3A9B" stroke-width="2" fill="none"/>
<rect x="935.6" y="1866.2" width="31" height="31" fill="#5D3A9B"/>
<path d="M854.5 1923.1V2035.5M840.5 1923.1H868.5M840.5 2035.5H868.5" stroke="#5D3A9B" stroke-width="2" fill="none"/>
<rect x="839.0" y="1963.9" width="31" height="31" fill="#5D3A9B"/>
<path d="M854.5 2137.8V2258.2M840.5 2137.8H868.5M840.5 2258.2H868.5" stroke="#5D3A9B" stroke-width="2" fill="none"/>
<rect x="839.0" y="2182.5" width="31" height="31" fill="#5D3A9B"/>
<path d="M951.1 1996.5V2047.5M937.1 1996.5H965.1M937.1 2047.5H965.1" stroke="#5D3A9B" stroke-width="2" fill="none"/>
<rect x="935.6" y="2006.5" width="31" height="31" fill="#5D3A9B"/>

<rect x="946.7" y="2025.7" width="31" height="31" fill="#5D3A9B"/>

<rect x="946.7" y="2059.9" width="31" height="31" fill="#5D3A9B"/>
<path d="M1084.8 1722.0V1977.4M1070.8 1722.0H1098.8M1070.8 1977.4H1098.8" stroke="#5D3A9B" stroke-width="2" fill="none"/>
<rect x="1069.3" y="1848.0" width="31" height="31" fill="#5D3A9B"/>

<rect x="1061.0" y="1861.9" width="31" height="31" fill="#5D3A9B"/>

<rect x="1065.7" y="2027.9" width="31" height="31" fill="#5D3A9B"/>
<path d="M1075.8 2020.0V2079.0M1061.8 2020.0H1089.8M1061.8 2079.0H1089.8" stroke="#5D3A9B" stroke-width="2" fill="none"/>
<rect x="1060.3" y="2034.3" width="31" height="31" fill="#5D3A9B"/>
<path d="M1407.1 1726.4V1815.8M1393.1 1726.4H1421.1M1393.1 1815.8H1421.1" stroke="#5D3A9B" stroke-width="2" fill="none"/>
<rect x="1391.6" y="1755.5" width="31" height="31" fill="#5D3A9B"/>
<path d="M1476.6 1642.0V1726.2M1462.6 1642.0H1490.6M1462.6 1726.2H1490.6" stroke="#5D3A9B" stroke-width="2" fill="none"/>
<rect x="1461.1" y="1668.9" width="31" height="31" fill="#5D3A9B"/>
<path d="M1476.6 1535.0V1907.0M1462.6 1535.0H1490.6M1462.6 1907.0H1490.6" stroke="#5D3A9B" stroke-width="2" fill="none"/>
<rect x="1461.1" y="1774.9" width="31" height="31" fill="#5D3A9B"/>
<path d="M1617.3 1627.3V1704.9M1603.3 1627.3H1631.3M1603.3 1704.9H1631.3" stroke="#5D3A9B" stroke-width="2" fill="none"/>
<rect x="1601.8" y="1650.6" width="31" height="31" fill="#5D3A9B"/>
<path d="M1620.3 1670.9V1740.1M1606.3 1670.9H1634.3M1606.3 1740.1H1634.3" stroke="#5D3A9B" stroke-width="2" fill="none"/>
<rect x="1604.8" y="1690.0" width="31" height="31" fill="#5D3A9B"/>
<path d="M1407.1 2022.2V2059.2M1393.1 2022.2H1421.1M1393.1 2059.2H1421.1" stroke="#5D3A9B" stroke-width="2" fill="none"/>
<rect x="1391.6" y="2025.2" width="31" height="31" fill="#5D3A9B"/>
<path d="M1477.0 1974.7V2032.2M1463.0 1974.7H1491.0M1463.0 2032.2H1491.0" stroke="#5D3A9B" stroke-width="2" fill="none"/>
<rect x="1461.5" y="1987.5" width="31" height="31" fill="#5D3A9B"/>
<path d="M1477.0 1974.4V2037.6M1463.0 1974.4H1491.0M1463.0 2037.6H1491.0" stroke="#5D3A9B" stroke-width="2" fill="none"/>
<rect x="1461.5" y="1990.5" width="31" height="31" fill="#5D3A9B"/>
<path d="M1620.3 2000.2V2040.8M1606.3 2000.2H1634.3M1606.3 2040.8H1634.3" stroke="#5D3A9B" stroke-width="2" fill="none"/>
<rect x="1604.8" y="2005.0" width="31" height="31" fill="#5D3A9B"/>
<path d="M1620.3 2010.6V2051.8M1606.3 2010.6H1634.3M1606.3 2051.8H1634.3" stroke="#5D3A9B" stroke-width="2" fill="none"/>
<rect x="1604.8" y="2015.7" width="31" height="31" fill="#5D3A9B"/>
<path d="M2017.2 1539.5V1668.7M2003.2 1539.5H2031.2M2003.2 1668.7H2031.2" stroke="#5D3A9B" stroke-width="2" fill="none"/>
<rect x="2001.7" y="1588.7" width="31" height="31" fill="#5D3A9B"/>
<path d="M2031.1 1718.3V1782.7M2017.1 1718.3H2045.1M2017.1 1782.7H2045.1" stroke="#5D3A9B" stroke-width="2" fill="none"/>
<rect x="2015.6" y="1735.0" width="31" height="31" fill="#5D3A9B"/>
<path d="M2139.4 1577.0V1667.5M2125.4 1577.0H2153.4M2125.4 1667.5H2153.4" stroke="#5D3A9B" stroke-width="2" fill="none"/>
<rect x="2123.9" y="1613.2" width="31" height="31" fill="#5D3A9B"/>
<path d="M2125.7 1581.3V1627.6M2111.7 1581.3H2139.7M2111.7 1627.6H2139.7" stroke="#5D3A9B" stroke-width="2" fill="none"/>
<rect x="2110.2" y="1644.9" width="31" height="31" fill="#5D3A9B"/>
<path d="M2125.7 1639.1V1704.9M2111.7 1639.1H2139.7M2111.7 1704.9H2139.7" stroke="#5D3A9B" stroke-width="2" fill="none"/>
<rect x="2110.2" y="1656.5" width="31" height="31" fill="#5D3A9B"/>
<path d="M2125.7 1635.5V1744.5M2111.7 1635.5H2139.7M2111.7 1744.5H2139.7" stroke="#5D3A9B" stroke-width="2" fill="none"/>
<rect x="2110.2" y="1674.5" width="31" height="31" fill="#5D3A9B"/>
<path d="M2139.4 1660.4V1736.6M2125.4 1660.4H2153.4M2125.4 1736.6H2153.4" stroke="#5D3A9B" stroke-width="2" fill="none"/>
<rect x="2123.9" y="1681.5" width="31" height="31" fill="#5D3A9B"/>
<path d="M2122.2 1678.4V1746.0M2108.2 1678.4H2136.2M2108.2 1746.0H2136.2" stroke="#5D3A9B" stroke-width="2" fill="none"/>
<rect x="2106.7" y="1696.7" width="31" height="31" fill="#5D3A9B"/>
<path d="M2132.0 1679.9V1726.9M2118.0 1679.9H2146.0M2118.0 1726.9H2146.0" stroke="#5D3A9B" stroke-width="2" fill="none"/>
<rect x="2116.5" y="1689.5" width="31" height="31" fill="#5D3A9B"/>
<path d="M2229.3 1651.9V1738.8M2215.3 1651.9H2243.3M2215.3 1738.8H2243.3" stroke="#5D3A9B" stroke-width="2" fill="none"/>
<rect x="2213.8" y="1680.2" width="31" height="31" fill="#5D3A9B"/>
<path d="M2206.0 1644.5V1771.6M2192.0 1644.5H2220.0M2192.0 1771.6H2220.0" stroke="#5D3A9B" stroke-width="2" fill="none"/>
<rect x="2190.5" y="1692.0" width="31" height="31" fill="#5D3A9B"/>
<path d="M2201.0 1653.0V1749.3M2187.0 1653.0H2215.0M2187.0 1749.3H2215.0" stroke="#5D3A9B" stroke-width="2" fill="none"/>
<rect x="2185.5" y="1702.4" width="31" height="31" fill="#5D3A9B"/>
<path d="M2200.0 1660.4V1756.7M2186.0 1660.4H2214.0M2186.0 1756.7H2214.0" stroke="#5D3A9B" stroke-width="2" fill="none"/>
<rect x="2184.5" y="1732.3" width="31" height="31" fill="#5D3A9B"/>
<path d="M2207.8 1663.9V1912.9M2193.8 1663.9H2221.8M2193.8 1912.9H2221.8" stroke="#5D3A9B" stroke-width="2" fill="none"/>
<rect x="2192.3" y="1772.9" width="31" height="31" fill="#5D3A9B"/>
<path d="M2201.0 1672.1V1807.9M2187.0 1672.1H2215.0M2187.0 1807.9H2215.0" stroke="#5D3A9B" stroke-width="2" fill="none"/>
<rect x="2185.5" y="1724.5" width="31" height="31" fill="#5D3A9B"/>
<path d="M2230.1 1767.9V1851.9M2216.1 1767.9H2244.1M2216.1 1851.9H2244.1" stroke="#5D3A9B" stroke-width="2" fill="none"/>
<rect x="2214.6" y="1793.8" width="31" height="31" fill="#5D3A9B"/>

<rect x="2190.8" y="1836.0" width="31" height="31" fill="#5D3A9B"/>
<path d="M1981.2 1926.6V2012.5M1967.2 1926.6H1995.2M1967.2 2012.5H1995.2" stroke="#5D3A9B" stroke-width="2" fill="none"/>
<rect x="1965.7" y="1954.2" width="31" height="31" fill="#5D3A9B"/>
<path d="M2017.2 1973.5V2020.4M2003.2 1973.5H2031.2M2003.2 2020.4H2031.2" stroke="#5D3A9B" stroke-width="2" fill="none"/>
<rect x="2001.7" y="1982.1" width="31" height="31" fill="#5D3A9B"/>
<path d="M2027.0 2021.8V2051.0M2013.0 2021.8H2041.0M2013.0 2051.0H2041.0" stroke="#5D3A9B" stroke-width="2" fill="none"/>
<rect x="2011.5" y="2020.9" width="31" height="31" fill="#5D3A9B"/>
<path d="M2130.0 1851.8V1920.2M2116.0 1851.8H2144.0M2116.0 1920.2H2144.0" stroke="#5D3A9B" stroke-width="2" fill="none"/>
<rect x="2114.5" y="1870.5" width="31" height="31" fill="#5D3A9B"/>
<path d="M2127.6 1952.6V2003.0M2113.6 1952.6H2141.6M2113.6 2003.0H2141.6" stroke="#5D3A9B" stroke-width="2" fill="none"/>
<rect x="2112.1" y="1962.3" width="31" height="31" fill="#5D3A9B"/>

<rect x="2112.1" y="1996.4" width="31" height="31" fill="#5D3A9B"/>
<path d="M2125.0 2003.4V2046.0M2111.0 2003.4H2139.0M2111.0 2046.0H2139.0" stroke="#5D3A9B" stroke-width="2" fill="none"/>
<rect x="2109.5" y="2009.2" width="31" height="31" fill="#5D3A9B"/>
<path d="M2206.5 1800.0V1905.3M2192.5 1800.0H2220.5M2192.5 1905.3H2220.5" stroke="#5D3A9B" stroke-width="2" fill="none"/>
<rect x="2191.0" y="1835.4" width="31" height="31" fill="#5D3A9B"/>
<path d="M2206.5 1795.5V1924.5M2192.5 1795.5H2220.5M2192.5 1924.5H2220.5" stroke="#5D3A9B" stroke-width="2" fill="none"/>
<rect x="2191.0" y="1844.5" width="31" height="31" fill="#5D3A9B"/>

<rect x="2184.5" y="2009.2" width="31" height="31" fill="#5D3A9B"/>
<path d="M1981.5 1756.0V1835.4M1967.5 1756.0H1995.5M1967.5 1835.4H1995.5" stroke="#5D3A9B" stroke-width="2" fill="none"/>
<rect x="1966.0" y="1779.6" width="31" height="31" fill="#5D3A9B"/>
<path d="M2128.5 1861.0V1931.8M2114.5 1861.0H2142.5M2114.5 1931.8H2142.5" stroke="#5D3A9B" stroke-width="2" fill="none"/>
<rect x="2114.2" y="1882.1" width="28.6" height="28.6" fill="#fff" stroke="#5D3A9B" stroke-width="2"/>
</g>
<path d="M254.0 2347.9V2324.6M254.0 1261.6V1284.9M384.8 2347.9V2324.6M384.8 1261.6V1284.9M515.7 2347.9V2324.6M515.7 1261.6V1284.9M645.2 2347.9V2324.6M645.2 1261.6V1284.9M774.6 2347.9V2324.6M774.6 1261.6V1284.9M905.5 2347.9V2324.6M905.5 1261.6V1284.9M1036.4 2347.9V2324.6M1036.4 1261.6V1284.9M1164.4 2347.9V2324.6M1164.4 1261.6V1284.9M1293.8 2347.9V2324.6M1293.8 1261.6V1284.9M1424.7 2347.9V2324.6M1424.7 1261.6V1284.9M1555.6 2347.9V2324.6M1555.6 1261.6V1284.9M1683.6 2347.9V2324.6M1683.6 1261.6V1284.9M1813.1 2347.9V2324.6M1813.1 1261.6V1284.9M1943.9 2347.9V2324.6M1943.9 1261.6V1284.9M2074.8 2347.9V2324.6M2074.8 1261.6V1284.9M2202.8 2347.9V2324.6M2202.8 1261.6V1284.9M124.5 2275.5H147.8M2332.3 2275.5H2309.0M124.5 2094.4H147.8M2332.3 2094.4H2309.0M124.5 1913.4H147.8M2332.3 1913.4H2309.0M124.5 1732.3H147.8M2332.3 1732.3H2309.0M124.5 1551.3H147.8M2332.3 1551.3H2309.0M124.5 1370.2H147.8M2332.3 1370.2H2309.0" stroke="#080808" stroke-width="2" fill="none"/>
<rect x="124.5" y="1261.6" width="2207.8" height="1086.3" fill="none" stroke="#080808" stroke-width="2"/>
<g font-family="Liberation Sans, Arial, sans-serif" font-size="40" fill="#080808"><text transform="translate(117.0,2291.0) scale(0.92,1)" text-anchor="end">5</text><text transform="translate(117.0,2109.9) scale(0.92,1)" text-anchor="end">10</text><text transform="translate(117.0,1928.9) scale(0.92,1)" text-anchor="end">15</text><text transform="translate(117.0,1747.8) scale(0.92,1)" text-anchor="end">20</text><text transform="translate(117.0,1566.8) scale(0.92,1)" text-anchor="end">25</text><text transform="translate(117.0,1385.7) scale(0.92,1)" text-anchor="end">30</text><text transform="translate(541.7,2383.9) rotate(-45) scale(0.92,1)" text-anchor="end">2020</text><text transform="translate(1062.4,2383.9) rotate(-45) scale(0.92,1)" text-anchor="end">2021</text><text transform="translate(1581.6,2383.9) rotate(-45) scale(0.92,1)" text-anchor="end">2022</text><text transform="translate(2100.8,2383.9) rotate(-45) scale(0.92,1)" text-anchor="end">2023</text></g>
<rect x="2055.8" y="37.3" width="239.5" height="203.2" fill="#fff" stroke="#080808" stroke-width="2"/>
<g font-family="Liberation Sans, Arial, sans-serif" font-size="37" fill="#000"><path d="M2139.2 49.7V84.7M2125.2 49.7H2153.2M2125.2 84.7H2153.2" stroke="#D41159" stroke-width="2" fill="none"/><circle cx="2139.2" cy="67.2" r="15" fill="#D41159"/><text x="2282" y="82.7" text-anchor="end">A-B</text><path d="M2139.2 97.6V132.6M2125.2 97.6H2153.2M2125.2 132.6H2153.2" stroke="#E66100" stroke-width="2" fill="none"/><path d="M2139.2 95.39999999999999L2154.5 115.1L2139.2 134.79999999999998L2123.8999999999996 115.1Z" fill="#E66100"/><text x="2282" y="130.6" text-anchor="end">B-A</text><path d="M2139.2 144.5V179.5M2125.2 144.5H2153.2M2125.2 179.5H2153.2" stroke="#1A85FF" stroke-width="2" fill="none"/><path d="M2139.2 141.5L2157.0 172.3L2121.3999999999996 172.3Z" fill="#1A85FF"/><text x="2282" y="177.5" text-anchor="end">A-A</text><path d="M2139.2 192.5V227.5M2125.2 192.5H2153.2M2125.2 227.5H2153.2" stroke="#5D3A9B" stroke-width="2" fill="none"/><rect x="2127.7" y="198.7" width="23" height="22.6" fill="#5D3A9B"/><text x="2282" y="225.5" text-anchor="end">B-B</text></g>
<text x="1228.4" y="2488" text-anchor="middle" font-family="Liberation Sans, Arial, sans-serif" font-size="42" fill="#080808">Date</text>
<text transform="translate(38.2,1172.5) rotate(-90) scale(0.975,1)" text-anchor="middle" font-family="Liberation Sans, Arial, sans-serif" font-size="42" fill="#080808">Inter-Note Interval (s)</text>
</svg></body></html>
